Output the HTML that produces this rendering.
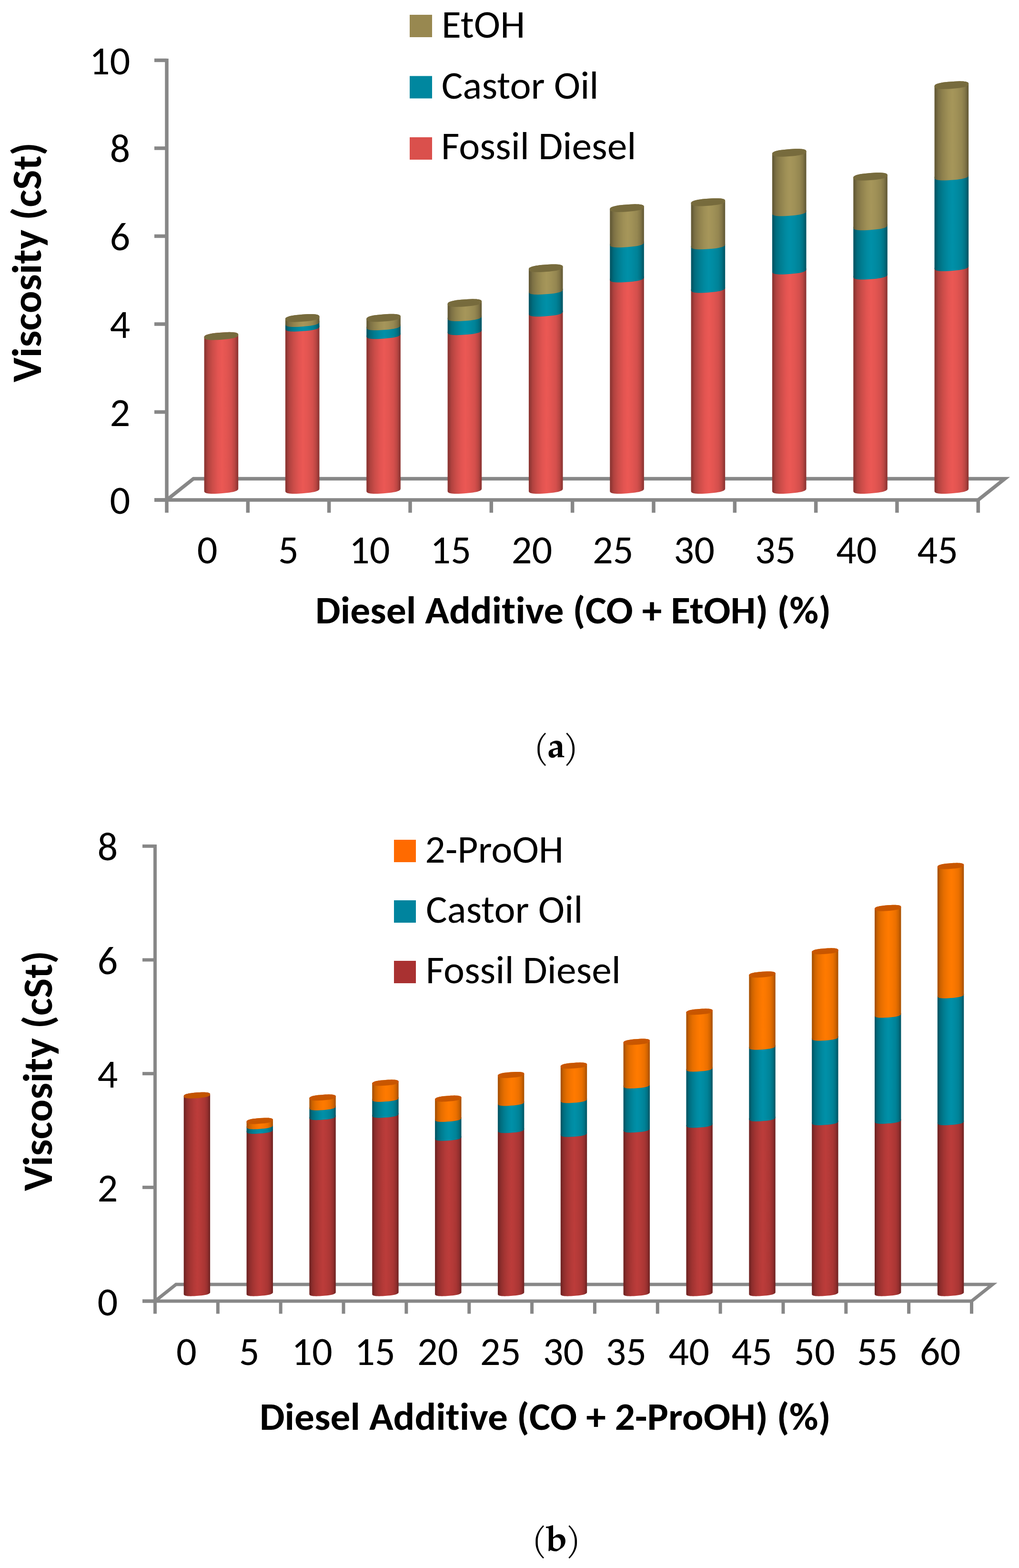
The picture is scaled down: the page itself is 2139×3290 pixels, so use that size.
<!DOCTYPE html><html><head><meta charset="utf-8"><title>Viscosity charts</title><style>html,body{margin:0;padding:0;background:#fff}svg{display:block}</style></head><body>
<svg width="2139" height="3290" viewBox="0 0 2139 3290">
<defs>
<linearGradient id="ga_red" x1="0" y1="0" x2="1" y2="0"><stop offset="0" stop-color="#8d3532"/><stop offset="0.04" stop-color="#923734"/><stop offset="0.11" stop-color="#b0423f"/><stop offset="0.24" stop-color="#ca4c48"/><stop offset="0.4" stop-color="#e25451"/><stop offset="0.52" stop-color="#eb5854"/><stop offset="0.65" stop-color="#e35551"/><stop offset="0.8" stop-color="#d44f4c"/><stop offset="0.9" stop-color="#ba4642"/><stop offset="0.965" stop-color="#963836"/><stop offset="1" stop-color="#8d3532"/></linearGradient>
<linearGradient id="ga_teal" x1="0" y1="0" x2="1" y2="0"><stop offset="0" stop-color="#005665"/><stop offset="0.04" stop-color="#005968"/><stop offset="0.11" stop-color="#006c7e"/><stop offset="0.24" stop-color="#007c90"/><stop offset="0.4" stop-color="#008aa1"/><stop offset="0.52" stop-color="#0090a8"/><stop offset="0.65" stop-color="#008ba2"/><stop offset="0.8" stop-color="#008297"/><stop offset="0.9" stop-color="#007285"/><stop offset="0.965" stop-color="#005c6c"/><stop offset="1" stop-color="#005665"/></linearGradient>
<linearGradient id="ga_olive" x1="0" y1="0" x2="1" y2="0"><stop offset="0" stop-color="#645a36"/><stop offset="0.04" stop-color="#675d38"/><stop offset="0.11" stop-color="#7c7044"/><stop offset="0.24" stop-color="#8f814d"/><stop offset="0.4" stop-color="#9f9056"/><stop offset="0.52" stop-color="#a6965a"/><stop offset="0.65" stop-color="#a09157"/><stop offset="0.8" stop-color="#958751"/><stop offset="0.9" stop-color="#837647"/><stop offset="0.965" stop-color="#6a603a"/><stop offset="1" stop-color="#645a36"/></linearGradient>
<linearGradient id="gb_red" x1="0" y1="0" x2="1" y2="0"><stop offset="0" stop-color="#712423"/><stop offset="0.04" stop-color="#752524"/><stop offset="0.11" stop-color="#8d2d2c"/><stop offset="0.24" stop-color="#a23432"/><stop offset="0.4" stop-color="#b43a38"/><stop offset="0.52" stop-color="#bc3c3a"/><stop offset="0.65" stop-color="#b53a38"/><stop offset="0.8" stop-color="#a93634"/><stop offset="0.9" stop-color="#952f2e"/><stop offset="0.965" stop-color="#782625"/><stop offset="1" stop-color="#712423"/></linearGradient>
<linearGradient id="gb_orange" x1="0" y1="0" x2="1" y2="0"><stop offset="0" stop-color="#a85100"/><stop offset="0.04" stop-color="#ad5300"/><stop offset="0.11" stop-color="#cc6200"/><stop offset="0.24" stop-color="#e66e00"/><stop offset="0.4" stop-color="#f77600"/><stop offset="0.52" stop-color="#ff7a00"/><stop offset="0.65" stop-color="#f97700"/><stop offset="0.8" stop-color="#eb7000"/><stop offset="0.9" stop-color="#d16400"/><stop offset="0.965" stop-color="#b25500"/><stop offset="1" stop-color="#a85100"/></linearGradient>
</defs>
<rect width="100%" height="100%" fill="#fff"/>
<g stroke="#878787" stroke-width="7.5" fill="none" stroke-linejoin="miter">
<polyline points="350,1049 406,1004.5 2109.3,1004.5 2053.3,1049"/>
<line x1="324" y1="1049" x2="2056.8" y2="1049"/>
<line x1="350" y1="123.0" x2="350" y2="1075.8"/>
<line x1="520.33" y1="1049" x2="520.33" y2="1075.8"/>
<line x1="690.66" y1="1049" x2="690.66" y2="1075.8"/>
<line x1="860.99" y1="1049" x2="860.99" y2="1075.8"/>
<line x1="1031.32" y1="1049" x2="1031.32" y2="1075.8"/>
<line x1="1201.65" y1="1049" x2="1201.65" y2="1075.8"/>
<line x1="1371.98" y1="1049" x2="1371.98" y2="1075.8"/>
<line x1="1542.31" y1="1049" x2="1542.31" y2="1075.8"/>
<line x1="1712.64" y1="1049" x2="1712.64" y2="1075.8"/>
<line x1="1882.97" y1="1049" x2="1882.97" y2="1075.8"/>
<line x1="2053.30" y1="1049" x2="2053.30" y2="1075.8"/>
<line x1="324" y1="1049.00" x2="350" y2="1049.00"/>
<line x1="324" y1="864.50" x2="350" y2="864.50"/>
<line x1="324" y1="680.00" x2="350" y2="680.00"/>
<line x1="324" y1="495.50" x2="350" y2="495.50"/>
<line x1="324" y1="311.00" x2="350" y2="311.00"/>
<line x1="324" y1="126.50" x2="350" y2="126.50"/>
</g>
<g transform="translate(464.40,0) skewY(-4.154)">
<path d="M-35.80,1027.66 L-35.80,705.14 L-35.56,703.57 L-34.86,702.49 L-33.68,701.56 L-32.05,700.74 L-29.96,700.02 L-27.42,699.39 L-24.44,698.86 L-21.00,698.42 L-17.10,698.08 L-12.66,697.84 L-7.48,697.69 L-0.00,697.64 L7.48,697.69 L12.66,697.84 L17.10,698.08 L21.00,698.42 L24.44,698.86 L27.42,699.39 L29.96,700.02 L32.05,700.74 L33.68,701.56 L34.86,702.49 L35.56,703.57 L35.80,705.14 L35.80,1027.66 L35.56,1029.23 L34.86,1030.31 L33.68,1031.24 L32.05,1032.06 L29.96,1032.78 L27.42,1033.41 L24.44,1033.94 L21.00,1034.38 L17.10,1034.72 L12.66,1034.96 L7.48,1035.11 L0.00,1035.16 L-7.48,1035.11 L-12.66,1034.96 L-17.10,1034.72 L-21.00,1034.38 L-24.44,1033.94 L-27.42,1033.41 L-29.96,1032.78 L-32.05,1032.06 L-33.68,1031.24 L-34.86,1030.31 L-35.56,1029.23 L-35.80,1027.66 Z" fill="url(#ga_red)"/>
<path d="M35.80,705.14 L35.56,706.70 L34.86,707.79 L33.68,708.72 L32.05,709.54 L29.96,710.26 L27.42,710.88 L24.44,711.41 L21.00,711.85 L17.10,712.19 L12.66,712.44 L7.48,712.59 L0.00,712.64 L-7.48,712.59 L-12.66,712.44 L-17.10,712.19 L-21.00,711.85 L-24.44,711.41 L-27.42,710.88 L-29.96,710.26 L-32.05,709.54 L-33.68,708.72 L-34.86,707.79 L-35.56,706.70 L-35.80,705.14 L-35.56,703.57 L-34.86,702.49 L-33.68,701.56 L-32.05,700.74 L-29.96,700.02 L-27.42,699.39 L-24.44,698.86 L-21.00,698.42 L-17.10,698.08 L-12.66,697.84 L-7.48,697.69 L-0.00,697.64 L7.48,697.69 L12.66,697.84 L17.10,698.08 L21.00,698.42 L24.44,698.86 L27.42,699.39 L29.96,700.02 L32.05,700.74 L33.68,701.56 L34.86,702.49 L35.56,703.57 L35.80,705.14 Z" fill="#776b3e"/>
</g>
<g transform="translate(634.73,0) skewY(-4.154)">
<path d="M-35.80,1027.66 L-35.80,687.36 L-35.56,685.80 L-34.86,684.71 L-33.68,683.78 L-32.05,682.96 L-29.96,682.24 L-27.42,681.62 L-24.44,681.09 L-21.00,680.65 L-17.10,680.31 L-12.66,680.06 L-7.48,679.91 L-0.00,679.86 L7.48,679.91 L12.66,680.06 L17.10,680.31 L21.00,680.65 L24.44,681.09 L27.42,681.62 L29.96,682.24 L32.05,682.96 L33.68,683.78 L34.86,684.71 L35.56,685.80 L35.80,687.36 L35.80,1027.66 L35.56,1029.23 L34.86,1030.31 L33.68,1031.24 L32.05,1032.06 L29.96,1032.78 L27.42,1033.41 L24.44,1033.94 L21.00,1034.38 L17.10,1034.72 L12.66,1034.96 L7.48,1035.11 L0.00,1035.16 L-7.48,1035.11 L-12.66,1034.96 L-17.10,1034.72 L-21.00,1034.38 L-24.44,1033.94 L-27.42,1033.41 L-29.96,1032.78 L-32.05,1032.06 L-33.68,1031.24 L-34.86,1030.31 L-35.56,1029.23 L-35.80,1027.66 Z" fill="url(#ga_red)"/>
<path d="M-35.80,687.36 L-35.80,677.66 L-35.56,676.10 L-34.86,675.01 L-33.68,674.08 L-32.05,673.26 L-29.96,672.54 L-27.42,671.92 L-24.44,671.39 L-21.00,670.95 L-17.10,670.61 L-12.66,670.36 L-7.48,670.21 L-0.00,670.16 L7.48,670.21 L12.66,670.36 L17.10,670.61 L21.00,670.95 L24.44,671.39 L27.42,671.92 L29.96,672.54 L32.05,673.26 L33.68,674.08 L34.86,675.01 L35.56,676.10 L35.80,677.66 L35.80,687.36 L35.56,688.93 L34.86,690.01 L33.68,690.94 L32.05,691.76 L29.96,692.48 L27.42,693.11 L24.44,693.64 L21.00,694.08 L17.10,694.42 L12.66,694.66 L7.48,694.81 L0.00,694.86 L-7.48,694.81 L-12.66,694.66 L-17.10,694.42 L-21.00,694.08 L-24.44,693.64 L-27.42,693.11 L-29.96,692.48 L-32.05,691.76 L-33.68,690.94 L-34.86,690.01 L-35.56,688.93 L-35.80,687.36 Z" fill="url(#ga_teal)"/>
<path d="M-35.80,677.66 L-35.80,667.34 L-35.56,665.77 L-34.86,664.69 L-33.68,663.76 L-32.05,662.94 L-29.96,662.22 L-27.42,661.59 L-24.44,661.06 L-21.00,660.62 L-17.10,660.28 L-12.66,660.04 L-7.48,659.89 L-0.00,659.84 L7.48,659.89 L12.66,660.04 L17.10,660.28 L21.00,660.62 L24.44,661.06 L27.42,661.59 L29.96,662.22 L32.05,662.94 L33.68,663.76 L34.86,664.69 L35.56,665.77 L35.80,667.34 L35.80,677.66 L35.56,679.23 L34.86,680.31 L33.68,681.24 L32.05,682.06 L29.96,682.78 L27.42,683.41 L24.44,683.94 L21.00,684.38 L17.10,684.72 L12.66,684.96 L7.48,685.11 L0.00,685.16 L-7.48,685.11 L-12.66,684.96 L-17.10,684.72 L-21.00,684.38 L-24.44,683.94 L-27.42,683.41 L-29.96,682.78 L-32.05,682.06 L-33.68,681.24 L-34.86,680.31 L-35.56,679.23 L-35.80,677.66 Z" fill="url(#ga_olive)"/>
<path d="M35.80,667.34 L35.56,668.90 L34.86,669.99 L33.68,670.92 L32.05,671.74 L29.96,672.46 L27.42,673.08 L24.44,673.61 L21.00,674.05 L17.10,674.39 L12.66,674.64 L7.48,674.79 L0.00,674.84 L-7.48,674.79 L-12.66,674.64 L-17.10,674.39 L-21.00,674.05 L-24.44,673.61 L-27.42,673.08 L-29.96,672.46 L-32.05,671.74 L-33.68,670.92 L-34.86,669.99 L-35.56,668.90 L-35.80,667.34 L-35.56,665.77 L-34.86,664.69 L-33.68,663.76 L-32.05,662.94 L-29.96,662.22 L-27.42,661.59 L-24.44,661.06 L-21.00,660.62 L-17.10,660.28 L-12.66,660.04 L-7.48,659.89 L-0.00,659.84 L7.48,659.89 L12.66,660.04 L17.10,660.28 L21.00,660.62 L24.44,661.06 L27.42,661.59 L29.96,662.22 L32.05,662.94 L33.68,663.76 L34.86,664.69 L35.56,665.77 L35.80,667.34 Z" fill="#776b3d"/>
</g>
<g transform="translate(805.06,0) skewY(-4.154)">
<path d="M-35.80,1027.66 L-35.80,702.96 L-35.56,701.40 L-34.86,700.31 L-33.68,699.38 L-32.05,698.56 L-29.96,697.84 L-27.42,697.22 L-24.44,696.69 L-21.00,696.25 L-17.10,695.91 L-12.66,695.66 L-7.48,695.51 L-0.00,695.46 L7.48,695.51 L12.66,695.66 L17.10,695.91 L21.00,696.25 L24.44,696.69 L27.42,697.22 L29.96,697.84 L32.05,698.56 L33.68,699.38 L34.86,700.31 L35.56,701.40 L35.80,702.96 L35.80,1027.66 L35.56,1029.23 L34.86,1030.31 L33.68,1031.24 L32.05,1032.06 L29.96,1032.78 L27.42,1033.41 L24.44,1033.94 L21.00,1034.38 L17.10,1034.72 L12.66,1034.96 L7.48,1035.11 L0.00,1035.16 L-7.48,1035.11 L-12.66,1034.96 L-17.10,1034.72 L-21.00,1034.38 L-24.44,1033.94 L-27.42,1033.41 L-29.96,1032.78 L-32.05,1032.06 L-33.68,1031.24 L-34.86,1030.31 L-35.56,1029.23 L-35.80,1027.66 Z" fill="url(#ga_red)"/>
<path d="M-35.80,702.96 L-35.80,684.76 L-35.56,683.20 L-34.86,682.11 L-33.68,681.18 L-32.05,680.36 L-29.96,679.64 L-27.42,679.02 L-24.44,678.49 L-21.00,678.05 L-17.10,677.71 L-12.66,677.46 L-7.48,677.31 L-0.00,677.26 L7.48,677.31 L12.66,677.46 L17.10,677.71 L21.00,678.05 L24.44,678.49 L27.42,679.02 L29.96,679.64 L32.05,680.36 L33.68,681.18 L34.86,682.11 L35.56,683.20 L35.80,684.76 L35.80,702.96 L35.56,704.53 L34.86,705.61 L33.68,706.54 L32.05,707.36 L29.96,708.08 L27.42,708.71 L24.44,709.24 L21.00,709.68 L17.10,710.02 L12.66,710.26 L7.48,710.41 L0.00,710.46 L-7.48,710.41 L-12.66,710.26 L-17.10,710.02 L-21.00,709.68 L-24.44,709.24 L-27.42,708.71 L-29.96,708.08 L-32.05,707.36 L-33.68,706.54 L-34.86,705.61 L-35.56,704.53 L-35.80,702.96 Z" fill="url(#ga_teal)"/>
<path d="M-35.80,684.76 L-35.80,667.04 L-35.56,665.47 L-34.86,664.39 L-33.68,663.46 L-32.05,662.64 L-29.96,661.92 L-27.42,661.29 L-24.44,660.76 L-21.00,660.32 L-17.10,659.98 L-12.66,659.74 L-7.48,659.59 L-0.00,659.54 L7.48,659.59 L12.66,659.74 L17.10,659.98 L21.00,660.32 L24.44,660.76 L27.42,661.29 L29.96,661.92 L32.05,662.64 L33.68,663.46 L34.86,664.39 L35.56,665.47 L35.80,667.04 L35.80,684.76 L35.56,686.33 L34.86,687.41 L33.68,688.34 L32.05,689.16 L29.96,689.88 L27.42,690.51 L24.44,691.04 L21.00,691.48 L17.10,691.82 L12.66,692.06 L7.48,692.21 L0.00,692.26 L-7.48,692.21 L-12.66,692.06 L-17.10,691.82 L-21.00,691.48 L-24.44,691.04 L-27.42,690.51 L-29.96,689.88 L-32.05,689.16 L-33.68,688.34 L-34.86,687.41 L-35.56,686.33 L-35.80,684.76 Z" fill="url(#ga_olive)"/>
<path d="M35.80,667.04 L35.56,668.60 L34.86,669.69 L33.68,670.62 L32.05,671.44 L29.96,672.16 L27.42,672.78 L24.44,673.31 L21.00,673.75 L17.10,674.09 L12.66,674.34 L7.48,674.49 L0.00,674.54 L-7.48,674.49 L-12.66,674.34 L-17.10,674.09 L-21.00,673.75 L-24.44,673.31 L-27.42,672.78 L-29.96,672.16 L-32.05,671.44 L-33.68,670.62 L-34.86,669.69 L-35.56,668.60 L-35.80,667.04 L-35.56,665.47 L-34.86,664.39 L-33.68,663.46 L-32.05,662.64 L-29.96,661.92 L-27.42,661.29 L-24.44,660.76 L-21.00,660.32 L-17.10,659.98 L-12.66,659.74 L-7.48,659.59 L-0.00,659.54 L7.48,659.59 L12.66,659.74 L17.10,659.98 L21.00,660.32 L24.44,660.76 L27.42,661.29 L29.96,661.92 L32.05,662.64 L33.68,663.46 L34.86,664.39 L35.56,665.47 L35.80,667.04 Z" fill="#776b3d"/>
</g>
<g transform="translate(975.39,0) skewY(-4.154)">
<path d="M-35.80,1027.66 L-35.80,694.86 L-35.56,693.30 L-34.86,692.21 L-33.68,691.28 L-32.05,690.46 L-29.96,689.74 L-27.42,689.12 L-24.44,688.59 L-21.00,688.15 L-17.10,687.81 L-12.66,687.56 L-7.48,687.41 L-0.00,687.36 L7.48,687.41 L12.66,687.56 L17.10,687.81 L21.00,688.15 L24.44,688.59 L27.42,689.12 L29.96,689.74 L32.05,690.46 L33.68,691.28 L34.86,692.21 L35.56,693.30 L35.80,694.86 L35.80,1027.66 L35.56,1029.23 L34.86,1030.31 L33.68,1031.24 L32.05,1032.06 L29.96,1032.78 L27.42,1033.41 L24.44,1033.94 L21.00,1034.38 L17.10,1034.72 L12.66,1034.96 L7.48,1035.11 L0.00,1035.16 L-7.48,1035.11 L-12.66,1034.96 L-17.10,1034.72 L-21.00,1034.38 L-24.44,1033.94 L-27.42,1033.41 L-29.96,1032.78 L-32.05,1032.06 L-33.68,1031.24 L-34.86,1030.31 L-35.56,1029.23 L-35.80,1027.66 Z" fill="url(#ga_red)"/>
<path d="M-35.80,694.86 L-35.80,665.76 L-35.56,664.20 L-34.86,663.11 L-33.68,662.18 L-32.05,661.36 L-29.96,660.64 L-27.42,660.02 L-24.44,659.49 L-21.00,659.05 L-17.10,658.71 L-12.66,658.46 L-7.48,658.31 L-0.00,658.26 L7.48,658.31 L12.66,658.46 L17.10,658.71 L21.00,659.05 L24.44,659.49 L27.42,660.02 L29.96,660.64 L32.05,661.36 L33.68,662.18 L34.86,663.11 L35.56,664.20 L35.80,665.76 L35.80,694.86 L35.56,696.43 L34.86,697.51 L33.68,698.44 L32.05,699.26 L29.96,699.98 L27.42,700.61 L24.44,701.14 L21.00,701.58 L17.10,701.92 L12.66,702.16 L7.48,702.31 L0.00,702.36 L-7.48,702.31 L-12.66,702.16 L-17.10,701.92 L-21.00,701.58 L-24.44,701.14 L-27.42,700.61 L-29.96,699.98 L-32.05,699.26 L-33.68,698.44 L-34.86,697.51 L-35.56,696.43 L-35.80,694.86 Z" fill="url(#ga_teal)"/>
<path d="M-35.80,665.76 L-35.80,635.64 L-35.56,634.07 L-34.86,632.99 L-33.68,632.06 L-32.05,631.24 L-29.96,630.52 L-27.42,629.89 L-24.44,629.36 L-21.00,628.92 L-17.10,628.58 L-12.66,628.34 L-7.48,628.19 L-0.00,628.14 L7.48,628.19 L12.66,628.34 L17.10,628.58 L21.00,628.92 L24.44,629.36 L27.42,629.89 L29.96,630.52 L32.05,631.24 L33.68,632.06 L34.86,632.99 L35.56,634.07 L35.80,635.64 L35.80,665.76 L35.56,667.33 L34.86,668.41 L33.68,669.34 L32.05,670.16 L29.96,670.88 L27.42,671.51 L24.44,672.04 L21.00,672.48 L17.10,672.82 L12.66,673.06 L7.48,673.21 L0.00,673.26 L-7.48,673.21 L-12.66,673.06 L-17.10,672.82 L-21.00,672.48 L-24.44,672.04 L-27.42,671.51 L-29.96,670.88 L-32.05,670.16 L-33.68,669.34 L-34.86,668.41 L-35.56,667.33 L-35.80,665.76 Z" fill="url(#ga_olive)"/>
<path d="M35.80,635.64 L35.56,637.20 L34.86,638.29 L33.68,639.22 L32.05,640.04 L29.96,640.76 L27.42,641.38 L24.44,641.91 L21.00,642.35 L17.10,642.69 L12.66,642.94 L7.48,643.09 L0.00,643.14 L-7.48,643.09 L-12.66,642.94 L-17.10,642.69 L-21.00,642.35 L-24.44,641.91 L-27.42,641.38 L-29.96,640.76 L-32.05,640.04 L-33.68,639.22 L-34.86,638.29 L-35.56,637.20 L-35.80,635.64 L-35.56,634.07 L-34.86,632.99 L-33.68,632.06 L-32.05,631.24 L-29.96,630.52 L-27.42,629.89 L-24.44,629.36 L-21.00,628.92 L-17.10,628.58 L-12.66,628.34 L-7.48,628.19 L-0.00,628.14 L7.48,628.19 L12.66,628.34 L17.10,628.58 L21.00,628.92 L24.44,629.36 L27.42,629.89 L29.96,630.52 L32.05,631.24 L33.68,632.06 L34.86,632.99 L35.56,634.07 L35.80,635.64 Z" fill="#776b3d"/>
</g>
<g transform="translate(1145.72,0) skewY(-4.154)">
<path d="M-35.80,1027.66 L-35.80,655.96 L-35.56,654.40 L-34.86,653.31 L-33.68,652.38 L-32.05,651.56 L-29.96,650.84 L-27.42,650.22 L-24.44,649.69 L-21.00,649.25 L-17.10,648.91 L-12.66,648.66 L-7.48,648.51 L-0.00,648.46 L7.48,648.51 L12.66,648.66 L17.10,648.91 L21.00,649.25 L24.44,649.69 L27.42,650.22 L29.96,650.84 L32.05,651.56 L33.68,652.38 L34.86,653.31 L35.56,654.40 L35.80,655.96 L35.80,1027.66 L35.56,1029.23 L34.86,1030.31 L33.68,1031.24 L32.05,1032.06 L29.96,1032.78 L27.42,1033.41 L24.44,1033.94 L21.00,1034.38 L17.10,1034.72 L12.66,1034.96 L7.48,1035.11 L0.00,1035.16 L-7.48,1035.11 L-12.66,1034.96 L-17.10,1034.72 L-21.00,1034.38 L-24.44,1033.94 L-27.42,1033.41 L-29.96,1032.78 L-32.05,1032.06 L-33.68,1031.24 L-34.86,1030.31 L-35.56,1029.23 L-35.80,1027.66 Z" fill="url(#ga_red)"/>
<path d="M-35.80,655.96 L-35.80,609.86 L-35.56,608.30 L-34.86,607.21 L-33.68,606.28 L-32.05,605.46 L-29.96,604.74 L-27.42,604.12 L-24.44,603.59 L-21.00,603.15 L-17.10,602.81 L-12.66,602.56 L-7.48,602.41 L-0.00,602.36 L7.48,602.41 L12.66,602.56 L17.10,602.81 L21.00,603.15 L24.44,603.59 L27.42,604.12 L29.96,604.74 L32.05,605.46 L33.68,606.28 L34.86,607.21 L35.56,608.30 L35.80,609.86 L35.80,655.96 L35.56,657.53 L34.86,658.61 L33.68,659.54 L32.05,660.36 L29.96,661.08 L27.42,661.71 L24.44,662.24 L21.00,662.68 L17.10,663.02 L12.66,663.26 L7.48,663.41 L0.00,663.46 L-7.48,663.41 L-12.66,663.26 L-17.10,663.02 L-21.00,662.68 L-24.44,662.24 L-27.42,661.71 L-29.96,661.08 L-32.05,660.36 L-33.68,659.54 L-34.86,658.61 L-35.56,657.53 L-35.80,655.96 Z" fill="url(#ga_teal)"/>
<path d="M-35.80,609.86 L-35.80,562.74 L-35.56,561.17 L-34.86,560.09 L-33.68,559.16 L-32.05,558.34 L-29.96,557.62 L-27.42,556.99 L-24.44,556.46 L-21.00,556.02 L-17.10,555.68 L-12.66,555.44 L-7.48,555.29 L-0.00,555.24 L7.48,555.29 L12.66,555.44 L17.10,555.68 L21.00,556.02 L24.44,556.46 L27.42,556.99 L29.96,557.62 L32.05,558.34 L33.68,559.16 L34.86,560.09 L35.56,561.17 L35.80,562.74 L35.80,609.86 L35.56,611.43 L34.86,612.51 L33.68,613.44 L32.05,614.26 L29.96,614.98 L27.42,615.61 L24.44,616.14 L21.00,616.58 L17.10,616.92 L12.66,617.16 L7.48,617.31 L0.00,617.36 L-7.48,617.31 L-12.66,617.16 L-17.10,616.92 L-21.00,616.58 L-24.44,616.14 L-27.42,615.61 L-29.96,614.98 L-32.05,614.26 L-33.68,613.44 L-34.86,612.51 L-35.56,611.43 L-35.80,609.86 Z" fill="url(#ga_olive)"/>
<path d="M35.80,562.74 L35.56,564.30 L34.86,565.39 L33.68,566.32 L32.05,567.14 L29.96,567.86 L27.42,568.48 L24.44,569.01 L21.00,569.45 L17.10,569.79 L12.66,570.04 L7.48,570.19 L0.00,570.24 L-7.48,570.19 L-12.66,570.04 L-17.10,569.79 L-21.00,569.45 L-24.44,569.01 L-27.42,568.48 L-29.96,567.86 L-32.05,567.14 L-33.68,566.32 L-34.86,565.39 L-35.56,564.30 L-35.80,562.74 L-35.56,561.17 L-34.86,560.09 L-33.68,559.16 L-32.05,558.34 L-29.96,557.62 L-27.42,556.99 L-24.44,556.46 L-21.00,556.02 L-17.10,555.68 L-12.66,555.44 L-7.48,555.29 L-0.00,555.24 L7.48,555.29 L12.66,555.44 L17.10,555.68 L21.00,556.02 L24.44,556.46 L27.42,556.99 L29.96,557.62 L32.05,558.34 L33.68,559.16 L34.86,560.09 L35.56,561.17 L35.80,562.74 Z" fill="#776b3d"/>
</g>
<g transform="translate(1316.05,0) skewY(-4.154)">
<path d="M-35.80,1027.66 L-35.80,584.26 L-35.56,582.70 L-34.86,581.61 L-33.68,580.68 L-32.05,579.86 L-29.96,579.14 L-27.42,578.52 L-24.44,577.99 L-21.00,577.55 L-17.10,577.21 L-12.66,576.96 L-7.48,576.81 L-0.00,576.76 L7.48,576.81 L12.66,576.96 L17.10,577.21 L21.00,577.55 L24.44,577.99 L27.42,578.52 L29.96,579.14 L32.05,579.86 L33.68,580.68 L34.86,581.61 L35.56,582.70 L35.80,584.26 L35.80,1027.66 L35.56,1029.23 L34.86,1030.31 L33.68,1031.24 L32.05,1032.06 L29.96,1032.78 L27.42,1033.41 L24.44,1033.94 L21.00,1034.38 L17.10,1034.72 L12.66,1034.96 L7.48,1035.11 L0.00,1035.16 L-7.48,1035.11 L-12.66,1034.96 L-17.10,1034.72 L-21.00,1034.38 L-24.44,1033.94 L-27.42,1033.41 L-29.96,1032.78 L-32.05,1032.06 L-33.68,1031.24 L-34.86,1030.31 L-35.56,1029.23 L-35.80,1027.66 Z" fill="url(#ga_red)"/>
<path d="M-35.80,584.26 L-35.80,510.96 L-35.56,509.40 L-34.86,508.31 L-33.68,507.38 L-32.05,506.56 L-29.96,505.84 L-27.42,505.22 L-24.44,504.69 L-21.00,504.25 L-17.10,503.91 L-12.66,503.66 L-7.48,503.51 L-0.00,503.46 L7.48,503.51 L12.66,503.66 L17.10,503.91 L21.00,504.25 L24.44,504.69 L27.42,505.22 L29.96,505.84 L32.05,506.56 L33.68,507.38 L34.86,508.31 L35.56,509.40 L35.80,510.96 L35.80,584.26 L35.56,585.83 L34.86,586.91 L33.68,587.84 L32.05,588.66 L29.96,589.38 L27.42,590.01 L24.44,590.54 L21.00,590.98 L17.10,591.32 L12.66,591.56 L7.48,591.71 L0.00,591.76 L-7.48,591.71 L-12.66,591.56 L-17.10,591.32 L-21.00,590.98 L-24.44,590.54 L-27.42,590.01 L-29.96,589.38 L-32.05,588.66 L-33.68,587.84 L-34.86,586.91 L-35.56,585.83 L-35.80,584.26 Z" fill="url(#ga_teal)"/>
<path d="M-35.80,510.96 L-35.80,436.64 L-35.56,435.07 L-34.86,433.99 L-33.68,433.06 L-32.05,432.24 L-29.96,431.52 L-27.42,430.89 L-24.44,430.36 L-21.00,429.92 L-17.10,429.58 L-12.66,429.34 L-7.48,429.19 L-0.00,429.14 L7.48,429.19 L12.66,429.34 L17.10,429.58 L21.00,429.92 L24.44,430.36 L27.42,430.89 L29.96,431.52 L32.05,432.24 L33.68,433.06 L34.86,433.99 L35.56,435.07 L35.80,436.64 L35.80,510.96 L35.56,512.53 L34.86,513.61 L33.68,514.54 L32.05,515.36 L29.96,516.08 L27.42,516.71 L24.44,517.24 L21.00,517.68 L17.10,518.02 L12.66,518.26 L7.48,518.41 L0.00,518.46 L-7.48,518.41 L-12.66,518.26 L-17.10,518.02 L-21.00,517.68 L-24.44,517.24 L-27.42,516.71 L-29.96,516.08 L-32.05,515.36 L-33.68,514.54 L-34.86,513.61 L-35.56,512.53 L-35.80,510.96 Z" fill="url(#ga_olive)"/>
<path d="M35.80,436.64 L35.56,438.20 L34.86,439.29 L33.68,440.22 L32.05,441.04 L29.96,441.76 L27.42,442.38 L24.44,442.91 L21.00,443.35 L17.10,443.69 L12.66,443.94 L7.48,444.09 L0.00,444.14 L-7.48,444.09 L-12.66,443.94 L-17.10,443.69 L-21.00,443.35 L-24.44,442.91 L-27.42,442.38 L-29.96,441.76 L-32.05,441.04 L-33.68,440.22 L-34.86,439.29 L-35.56,438.20 L-35.80,436.64 L-35.56,435.07 L-34.86,433.99 L-33.68,433.06 L-32.05,432.24 L-29.96,431.52 L-27.42,430.89 L-24.44,430.36 L-21.00,429.92 L-17.10,429.58 L-12.66,429.34 L-7.48,429.19 L-0.00,429.14 L7.48,429.19 L12.66,429.34 L17.10,429.58 L21.00,429.92 L24.44,430.36 L27.42,430.89 L29.96,431.52 L32.05,432.24 L33.68,433.06 L34.86,433.99 L35.56,435.07 L35.80,436.64 Z" fill="#776b3d"/>
</g>
<g transform="translate(1486.38,0) skewY(-4.154)">
<path d="M-35.80,1027.66 L-35.80,606.16 L-35.56,604.60 L-34.86,603.51 L-33.68,602.58 L-32.05,601.76 L-29.96,601.04 L-27.42,600.42 L-24.44,599.89 L-21.00,599.45 L-17.10,599.11 L-12.66,598.86 L-7.48,598.71 L-0.00,598.66 L7.48,598.71 L12.66,598.86 L17.10,599.11 L21.00,599.45 L24.44,599.89 L27.42,600.42 L29.96,601.04 L32.05,601.76 L33.68,602.58 L34.86,603.51 L35.56,604.60 L35.80,606.16 L35.80,1027.66 L35.56,1029.23 L34.86,1030.31 L33.68,1031.24 L32.05,1032.06 L29.96,1032.78 L27.42,1033.41 L24.44,1033.94 L21.00,1034.38 L17.10,1034.72 L12.66,1034.96 L7.48,1035.11 L0.00,1035.16 L-7.48,1035.11 L-12.66,1034.96 L-17.10,1034.72 L-21.00,1034.38 L-24.44,1033.94 L-27.42,1033.41 L-29.96,1032.78 L-32.05,1032.06 L-33.68,1031.24 L-34.86,1030.31 L-35.56,1029.23 L-35.80,1027.66 Z" fill="url(#ga_red)"/>
<path d="M-35.80,606.16 L-35.80,515.06 L-35.56,513.50 L-34.86,512.41 L-33.68,511.48 L-32.05,510.66 L-29.96,509.94 L-27.42,509.32 L-24.44,508.79 L-21.00,508.35 L-17.10,508.01 L-12.66,507.76 L-7.48,507.61 L-0.00,507.56 L7.48,507.61 L12.66,507.76 L17.10,508.01 L21.00,508.35 L24.44,508.79 L27.42,509.32 L29.96,509.94 L32.05,510.66 L33.68,511.48 L34.86,512.41 L35.56,513.50 L35.80,515.06 L35.80,606.16 L35.56,607.73 L34.86,608.81 L33.68,609.74 L32.05,610.56 L29.96,611.28 L27.42,611.91 L24.44,612.44 L21.00,612.88 L17.10,613.22 L12.66,613.46 L7.48,613.61 L0.00,613.66 L-7.48,613.61 L-12.66,613.46 L-17.10,613.22 L-21.00,612.88 L-24.44,612.44 L-27.42,611.91 L-29.96,611.28 L-32.05,610.56 L-33.68,609.74 L-34.86,608.81 L-35.56,607.73 L-35.80,606.16 Z" fill="url(#ga_teal)"/>
<path d="M-35.80,515.06 L-35.80,424.24 L-35.56,422.67 L-34.86,421.59 L-33.68,420.66 L-32.05,419.84 L-29.96,419.12 L-27.42,418.49 L-24.44,417.96 L-21.00,417.52 L-17.10,417.18 L-12.66,416.94 L-7.48,416.79 L-0.00,416.74 L7.48,416.79 L12.66,416.94 L17.10,417.18 L21.00,417.52 L24.44,417.96 L27.42,418.49 L29.96,419.12 L32.05,419.84 L33.68,420.66 L34.86,421.59 L35.56,422.67 L35.80,424.24 L35.80,515.06 L35.56,516.63 L34.86,517.71 L33.68,518.64 L32.05,519.46 L29.96,520.18 L27.42,520.81 L24.44,521.34 L21.00,521.78 L17.10,522.12 L12.66,522.36 L7.48,522.51 L0.00,522.56 L-7.48,522.51 L-12.66,522.36 L-17.10,522.12 L-21.00,521.78 L-24.44,521.34 L-27.42,520.81 L-29.96,520.18 L-32.05,519.46 L-33.68,518.64 L-34.86,517.71 L-35.56,516.63 L-35.80,515.06 Z" fill="url(#ga_olive)"/>
<path d="M35.80,424.24 L35.56,425.80 L34.86,426.89 L33.68,427.82 L32.05,428.64 L29.96,429.36 L27.42,429.98 L24.44,430.51 L21.00,430.95 L17.10,431.29 L12.66,431.54 L7.48,431.69 L0.00,431.74 L-7.48,431.69 L-12.66,431.54 L-17.10,431.29 L-21.00,430.95 L-24.44,430.51 L-27.42,429.98 L-29.96,429.36 L-32.05,428.64 L-33.68,427.82 L-34.86,426.89 L-35.56,425.80 L-35.80,424.24 L-35.56,422.67 L-34.86,421.59 L-33.68,420.66 L-32.05,419.84 L-29.96,419.12 L-27.42,418.49 L-24.44,417.96 L-21.00,417.52 L-17.10,417.18 L-12.66,416.94 L-7.48,416.79 L-0.00,416.74 L7.48,416.79 L12.66,416.94 L17.10,417.18 L21.00,417.52 L24.44,417.96 L27.42,418.49 L29.96,419.12 L32.05,419.84 L33.68,420.66 L34.86,421.59 L35.56,422.67 L35.80,424.24 Z" fill="#776b3d"/>
</g>
<g transform="translate(1656.71,0) skewY(-4.154)">
<path d="M-35.80,1027.66 L-35.80,567.46 L-35.56,565.90 L-34.86,564.81 L-33.68,563.88 L-32.05,563.06 L-29.96,562.34 L-27.42,561.72 L-24.44,561.19 L-21.00,560.75 L-17.10,560.41 L-12.66,560.16 L-7.48,560.01 L-0.00,559.96 L7.48,560.01 L12.66,560.16 L17.10,560.41 L21.00,560.75 L24.44,561.19 L27.42,561.72 L29.96,562.34 L32.05,563.06 L33.68,563.88 L34.86,564.81 L35.56,565.90 L35.80,567.46 L35.80,1027.66 L35.56,1029.23 L34.86,1030.31 L33.68,1031.24 L32.05,1032.06 L29.96,1032.78 L27.42,1033.41 L24.44,1033.94 L21.00,1034.38 L17.10,1034.72 L12.66,1034.96 L7.48,1035.11 L0.00,1035.16 L-7.48,1035.11 L-12.66,1034.96 L-17.10,1034.72 L-21.00,1034.38 L-24.44,1033.94 L-27.42,1033.41 L-29.96,1032.78 L-32.05,1032.06 L-33.68,1031.24 L-34.86,1030.31 L-35.56,1029.23 L-35.80,1027.66 Z" fill="url(#ga_red)"/>
<path d="M-35.80,567.46 L-35.80,445.26 L-35.56,443.70 L-34.86,442.61 L-33.68,441.68 L-32.05,440.86 L-29.96,440.14 L-27.42,439.52 L-24.44,438.99 L-21.00,438.55 L-17.10,438.21 L-12.66,437.96 L-7.48,437.81 L-0.00,437.76 L7.48,437.81 L12.66,437.96 L17.10,438.21 L21.00,438.55 L24.44,438.99 L27.42,439.52 L29.96,440.14 L32.05,440.86 L33.68,441.68 L34.86,442.61 L35.56,443.70 L35.80,445.26 L35.80,567.46 L35.56,569.03 L34.86,570.11 L33.68,571.04 L32.05,571.86 L29.96,572.58 L27.42,573.21 L24.44,573.74 L21.00,574.18 L17.10,574.52 L12.66,574.76 L7.48,574.91 L0.00,574.96 L-7.48,574.91 L-12.66,574.76 L-17.10,574.52 L-21.00,574.18 L-24.44,573.74 L-27.42,573.21 L-29.96,572.58 L-32.05,571.86 L-33.68,571.04 L-34.86,570.11 L-35.56,569.03 L-35.80,567.46 Z" fill="url(#ga_teal)"/>
<path d="M-35.80,445.26 L-35.80,320.54 L-35.56,318.97 L-34.86,317.89 L-33.68,316.96 L-32.05,316.14 L-29.96,315.42 L-27.42,314.79 L-24.44,314.26 L-21.00,313.82 L-17.10,313.48 L-12.66,313.24 L-7.48,313.09 L-0.00,313.04 L7.48,313.09 L12.66,313.24 L17.10,313.48 L21.00,313.82 L24.44,314.26 L27.42,314.79 L29.96,315.42 L32.05,316.14 L33.68,316.96 L34.86,317.89 L35.56,318.97 L35.80,320.54 L35.80,445.26 L35.56,446.83 L34.86,447.91 L33.68,448.84 L32.05,449.66 L29.96,450.38 L27.42,451.01 L24.44,451.54 L21.00,451.98 L17.10,452.32 L12.66,452.56 L7.48,452.71 L0.00,452.76 L-7.48,452.71 L-12.66,452.56 L-17.10,452.32 L-21.00,451.98 L-24.44,451.54 L-27.42,451.01 L-29.96,450.38 L-32.05,449.66 L-33.68,448.84 L-34.86,447.91 L-35.56,446.83 L-35.80,445.26 Z" fill="url(#ga_olive)"/>
<path d="M35.80,320.54 L35.56,322.10 L34.86,323.19 L33.68,324.12 L32.05,324.94 L29.96,325.66 L27.42,326.28 L24.44,326.81 L21.00,327.25 L17.10,327.59 L12.66,327.84 L7.48,327.99 L0.00,328.04 L-7.48,327.99 L-12.66,327.84 L-17.10,327.59 L-21.00,327.25 L-24.44,326.81 L-27.42,326.28 L-29.96,325.66 L-32.05,324.94 L-33.68,324.12 L-34.86,323.19 L-35.56,322.10 L-35.80,320.54 L-35.56,318.97 L-34.86,317.89 L-33.68,316.96 L-32.05,316.14 L-29.96,315.42 L-27.42,314.79 L-24.44,314.26 L-21.00,313.82 L-17.10,313.48 L-12.66,313.24 L-7.48,313.09 L-0.00,313.04 L7.48,313.09 L12.66,313.24 L17.10,313.48 L21.00,313.82 L24.44,314.26 L27.42,314.79 L29.96,315.42 L32.05,316.14 L33.68,316.96 L34.86,317.89 L35.56,318.97 L35.80,320.54 Z" fill="#776b3d"/>
</g>
<g transform="translate(1827.04,0) skewY(-4.154)">
<path d="M-35.80,1027.66 L-35.80,578.26 L-35.56,576.70 L-34.86,575.61 L-33.68,574.68 L-32.05,573.86 L-29.96,573.14 L-27.42,572.52 L-24.44,571.99 L-21.00,571.55 L-17.10,571.21 L-12.66,570.96 L-7.48,570.81 L-0.00,570.76 L7.48,570.81 L12.66,570.96 L17.10,571.21 L21.00,571.55 L24.44,571.99 L27.42,572.52 L29.96,573.14 L32.05,573.86 L33.68,574.68 L34.86,575.61 L35.56,576.70 L35.80,578.26 L35.80,1027.66 L35.56,1029.23 L34.86,1030.31 L33.68,1031.24 L32.05,1032.06 L29.96,1032.78 L27.42,1033.41 L24.44,1033.94 L21.00,1034.38 L17.10,1034.72 L12.66,1034.96 L7.48,1035.11 L0.00,1035.16 L-7.48,1035.11 L-12.66,1034.96 L-17.10,1034.72 L-21.00,1034.38 L-24.44,1033.94 L-27.42,1033.41 L-29.96,1032.78 L-32.05,1032.06 L-33.68,1031.24 L-34.86,1030.31 L-35.56,1029.23 L-35.80,1027.66 Z" fill="url(#ga_red)"/>
<path d="M-35.80,578.26 L-35.80,474.96 L-35.56,473.40 L-34.86,472.31 L-33.68,471.38 L-32.05,470.56 L-29.96,469.84 L-27.42,469.22 L-24.44,468.69 L-21.00,468.25 L-17.10,467.91 L-12.66,467.66 L-7.48,467.51 L-0.00,467.46 L7.48,467.51 L12.66,467.66 L17.10,467.91 L21.00,468.25 L24.44,468.69 L27.42,469.22 L29.96,469.84 L32.05,470.56 L33.68,471.38 L34.86,472.31 L35.56,473.40 L35.80,474.96 L35.80,578.26 L35.56,579.83 L34.86,580.91 L33.68,581.84 L32.05,582.66 L29.96,583.38 L27.42,584.01 L24.44,584.54 L21.00,584.98 L17.10,585.32 L12.66,585.56 L7.48,585.71 L0.00,585.76 L-7.48,585.71 L-12.66,585.56 L-17.10,585.32 L-21.00,584.98 L-24.44,584.54 L-27.42,584.01 L-29.96,583.38 L-32.05,582.66 L-33.68,581.84 L-34.86,580.91 L-35.56,579.83 L-35.80,578.26 Z" fill="url(#ga_teal)"/>
<path d="M-35.80,474.96 L-35.80,370.54 L-35.56,368.97 L-34.86,367.89 L-33.68,366.96 L-32.05,366.14 L-29.96,365.42 L-27.42,364.79 L-24.44,364.26 L-21.00,363.82 L-17.10,363.48 L-12.66,363.24 L-7.48,363.09 L-0.00,363.04 L7.48,363.09 L12.66,363.24 L17.10,363.48 L21.00,363.82 L24.44,364.26 L27.42,364.79 L29.96,365.42 L32.05,366.14 L33.68,366.96 L34.86,367.89 L35.56,368.97 L35.80,370.54 L35.80,474.96 L35.56,476.53 L34.86,477.61 L33.68,478.54 L32.05,479.36 L29.96,480.08 L27.42,480.71 L24.44,481.24 L21.00,481.68 L17.10,482.02 L12.66,482.26 L7.48,482.41 L0.00,482.46 L-7.48,482.41 L-12.66,482.26 L-17.10,482.02 L-21.00,481.68 L-24.44,481.24 L-27.42,480.71 L-29.96,480.08 L-32.05,479.36 L-33.68,478.54 L-34.86,477.61 L-35.56,476.53 L-35.80,474.96 Z" fill="url(#ga_olive)"/>
<path d="M35.80,370.54 L35.56,372.10 L34.86,373.19 L33.68,374.12 L32.05,374.94 L29.96,375.66 L27.42,376.28 L24.44,376.81 L21.00,377.25 L17.10,377.59 L12.66,377.84 L7.48,377.99 L0.00,378.04 L-7.48,377.99 L-12.66,377.84 L-17.10,377.59 L-21.00,377.25 L-24.44,376.81 L-27.42,376.28 L-29.96,375.66 L-32.05,374.94 L-33.68,374.12 L-34.86,373.19 L-35.56,372.10 L-35.80,370.54 L-35.56,368.97 L-34.86,367.89 L-33.68,366.96 L-32.05,366.14 L-29.96,365.42 L-27.42,364.79 L-24.44,364.26 L-21.00,363.82 L-17.10,363.48 L-12.66,363.24 L-7.48,363.09 L-0.00,363.04 L7.48,363.09 L12.66,363.24 L17.10,363.48 L21.00,363.82 L24.44,364.26 L27.42,364.79 L29.96,365.42 L32.05,366.14 L33.68,366.96 L34.86,367.89 L35.56,368.97 L35.80,370.54 Z" fill="#776b3d"/>
</g>
<g transform="translate(1997.37,0) skewY(-4.154)">
<path d="M-35.80,1027.66 L-35.80,560.66 L-35.56,559.10 L-34.86,558.01 L-33.68,557.08 L-32.05,556.26 L-29.96,555.54 L-27.42,554.92 L-24.44,554.39 L-21.00,553.95 L-17.10,553.61 L-12.66,553.36 L-7.48,553.21 L-0.00,553.16 L7.48,553.21 L12.66,553.36 L17.10,553.61 L21.00,553.95 L24.44,554.39 L27.42,554.92 L29.96,555.54 L32.05,556.26 L33.68,557.08 L34.86,558.01 L35.56,559.10 L35.80,560.66 L35.80,1027.66 L35.56,1029.23 L34.86,1030.31 L33.68,1031.24 L32.05,1032.06 L29.96,1032.78 L27.42,1033.41 L24.44,1033.94 L21.00,1034.38 L17.10,1034.72 L12.66,1034.96 L7.48,1035.11 L0.00,1035.16 L-7.48,1035.11 L-12.66,1034.96 L-17.10,1034.72 L-21.00,1034.38 L-24.44,1033.94 L-27.42,1033.41 L-29.96,1032.78 L-32.05,1032.06 L-33.68,1031.24 L-34.86,1030.31 L-35.56,1029.23 L-35.80,1027.66 Z" fill="url(#ga_red)"/>
<path d="M-35.80,560.66 L-35.80,370.26 L-35.56,368.70 L-34.86,367.61 L-33.68,366.68 L-32.05,365.86 L-29.96,365.14 L-27.42,364.52 L-24.44,363.99 L-21.00,363.55 L-17.10,363.21 L-12.66,362.96 L-7.48,362.81 L-0.00,362.76 L7.48,362.81 L12.66,362.96 L17.10,363.21 L21.00,363.55 L24.44,363.99 L27.42,364.52 L29.96,365.14 L32.05,365.86 L33.68,366.68 L34.86,367.61 L35.56,368.70 L35.80,370.26 L35.80,560.66 L35.56,562.23 L34.86,563.31 L33.68,564.24 L32.05,565.06 L29.96,565.78 L27.42,566.41 L24.44,566.94 L21.00,567.38 L17.10,567.72 L12.66,567.96 L7.48,568.11 L0.00,568.16 L-7.48,568.11 L-12.66,567.96 L-17.10,567.72 L-21.00,567.38 L-24.44,566.94 L-27.42,566.41 L-29.96,565.78 L-32.05,565.06 L-33.68,564.24 L-34.86,563.31 L-35.56,562.23 L-35.80,560.66 Z" fill="url(#ga_teal)"/>
<path d="M-35.80,370.26 L-35.80,178.64 L-35.56,177.07 L-34.86,175.99 L-33.68,175.06 L-32.05,174.24 L-29.96,173.52 L-27.42,172.89 L-24.44,172.36 L-21.00,171.92 L-17.10,171.58 L-12.66,171.34 L-7.48,171.19 L-0.00,171.14 L7.48,171.19 L12.66,171.34 L17.10,171.58 L21.00,171.92 L24.44,172.36 L27.42,172.89 L29.96,173.52 L32.05,174.24 L33.68,175.06 L34.86,175.99 L35.56,177.07 L35.80,178.64 L35.80,370.26 L35.56,371.83 L34.86,372.91 L33.68,373.84 L32.05,374.66 L29.96,375.38 L27.42,376.01 L24.44,376.54 L21.00,376.98 L17.10,377.32 L12.66,377.56 L7.48,377.71 L0.00,377.76 L-7.48,377.71 L-12.66,377.56 L-17.10,377.32 L-21.00,376.98 L-24.44,376.54 L-27.42,376.01 L-29.96,375.38 L-32.05,374.66 L-33.68,373.84 L-34.86,372.91 L-35.56,371.83 L-35.80,370.26 Z" fill="url(#ga_olive)"/>
<path d="M35.80,178.64 L35.56,180.20 L34.86,181.29 L33.68,182.22 L32.05,183.04 L29.96,183.76 L27.42,184.38 L24.44,184.91 L21.00,185.35 L17.10,185.69 L12.66,185.94 L7.48,186.09 L0.00,186.14 L-7.48,186.09 L-12.66,185.94 L-17.10,185.69 L-21.00,185.35 L-24.44,184.91 L-27.42,184.38 L-29.96,183.76 L-32.05,183.04 L-33.68,182.22 L-34.86,181.29 L-35.56,180.20 L-35.80,178.64 L-35.56,177.07 L-34.86,175.99 L-33.68,175.06 L-32.05,174.24 L-29.96,173.52 L-27.42,172.89 L-24.44,172.36 L-21.00,171.92 L-17.10,171.58 L-12.66,171.34 L-7.48,171.19 L-0.00,171.14 L7.48,171.19 L12.66,171.34 L17.10,171.58 L21.00,171.92 L24.44,172.36 L27.42,172.89 L29.96,173.52 L32.05,174.24 L33.68,175.06 L34.86,175.99 L35.56,177.07 L35.80,178.64 Z" fill="#776b3d"/>
</g>
<g stroke="#878787" stroke-width="7" fill="none" stroke-linejoin="miter">
<polyline points="325.5,2730 369.5,2695 2083.5,2695 2039.5,2730"/>
<line x1="299" y1="2730" x2="2043.0" y2="2730"/>
<line x1="325.5" y1="1771.9" x2="325.5" y2="2756.5"/>
<line x1="457.35" y1="2730" x2="457.35" y2="2756.5"/>
<line x1="589.19" y1="2730" x2="589.19" y2="2756.5"/>
<line x1="721.04" y1="2730" x2="721.04" y2="2756.5"/>
<line x1="852.88" y1="2730" x2="852.88" y2="2756.5"/>
<line x1="984.73" y1="2730" x2="984.73" y2="2756.5"/>
<line x1="1116.58" y1="2730" x2="1116.58" y2="2756.5"/>
<line x1="1248.42" y1="2730" x2="1248.42" y2="2756.5"/>
<line x1="1380.27" y1="2730" x2="1380.27" y2="2756.5"/>
<line x1="1512.12" y1="2730" x2="1512.12" y2="2756.5"/>
<line x1="1643.96" y1="2730" x2="1643.96" y2="2756.5"/>
<line x1="1775.81" y1="2730" x2="1775.81" y2="2756.5"/>
<line x1="1907.65" y1="2730" x2="1907.65" y2="2756.5"/>
<line x1="2039.50" y1="2730" x2="2039.50" y2="2756.5"/>
<line x1="299" y1="2730.00" x2="325.5" y2="2730.00"/>
<line x1="299" y1="2491.35" x2="325.5" y2="2491.35"/>
<line x1="299" y1="2252.70" x2="325.5" y2="2252.70"/>
<line x1="299" y1="2014.05" x2="325.5" y2="2014.05"/>
<line x1="299" y1="1775.40" x2="325.5" y2="1775.40"/>
</g>
<g transform="translate(413.40,0) skewY(-4.130)">
<path d="M-27.70,2713.17 L-27.70,2298.23 L-27.52,2297.00 L-26.97,2296.14 L-26.06,2295.41 L-24.80,2294.77 L-23.18,2294.20 L-21.22,2293.71 L-18.91,2293.29 L-16.25,2292.95 L-13.23,2292.68 L-9.79,2292.49 L-5.78,2292.37 L-0.00,2292.33 L5.78,2292.37 L9.79,2292.49 L13.23,2292.68 L16.25,2292.95 L18.91,2293.29 L21.22,2293.71 L23.18,2294.20 L24.80,2294.77 L26.06,2295.41 L26.97,2296.14 L27.52,2297.00 L27.70,2298.23 L27.70,2713.17 L27.52,2714.40 L26.97,2715.26 L26.06,2715.99 L24.80,2716.63 L23.18,2717.20 L21.22,2717.69 L18.91,2718.11 L16.25,2718.45 L13.23,2718.72 L9.79,2718.91 L5.78,2719.03 L0.00,2719.07 L-5.78,2719.03 L-9.79,2718.91 L-13.23,2718.72 L-16.25,2718.45 L-18.91,2718.11 L-21.22,2717.69 L-23.18,2717.20 L-24.80,2716.63 L-26.06,2715.99 L-26.97,2715.26 L-27.52,2714.40 L-27.70,2713.17 Z" fill="url(#gb_red)"/>
<path d="M27.70,2298.23 L27.52,2299.46 L26.97,2300.32 L26.06,2301.05 L24.80,2301.69 L23.18,2302.26 L21.22,2302.75 L18.91,2303.17 L16.25,2303.51 L13.23,2303.78 L9.79,2303.97 L5.78,2304.09 L0.00,2304.13 L-5.78,2304.09 L-9.79,2303.97 L-13.23,2303.78 L-16.25,2303.51 L-18.91,2303.17 L-21.22,2302.75 L-23.18,2302.26 L-24.80,2301.69 L-26.06,2301.05 L-26.97,2300.32 L-27.52,2299.46 L-27.70,2298.23 L-27.52,2297.00 L-26.97,2296.14 L-26.06,2295.41 L-24.80,2294.77 L-23.18,2294.20 L-21.22,2293.71 L-18.91,2293.29 L-16.25,2292.95 L-13.23,2292.68 L-9.79,2292.49 L-5.78,2292.37 L-0.00,2292.33 L5.78,2292.37 L9.79,2292.49 L13.23,2292.68 L16.25,2292.95 L18.91,2293.29 L21.22,2293.71 L23.18,2294.20 L24.80,2294.77 L26.06,2295.41 L26.97,2296.14 L27.52,2297.00 L27.70,2298.23 Z" fill="#c35400"/>
</g>
<g transform="translate(545.25,0) skewY(-4.130)">
<path d="M-27.70,2713.17 L-27.70,2372.47 L-27.52,2371.24 L-26.97,2370.38 L-26.06,2369.65 L-24.80,2369.01 L-23.18,2368.44 L-21.22,2367.95 L-18.91,2367.53 L-16.25,2367.19 L-13.23,2366.92 L-9.79,2366.73 L-5.78,2366.61 L-0.00,2366.57 L5.78,2366.61 L9.79,2366.73 L13.23,2366.92 L16.25,2367.19 L18.91,2367.53 L21.22,2367.95 L23.18,2368.44 L24.80,2369.01 L26.06,2369.65 L26.97,2370.38 L27.52,2371.24 L27.70,2372.47 L27.70,2713.17 L27.52,2714.40 L26.97,2715.26 L26.06,2715.99 L24.80,2716.63 L23.18,2717.20 L21.22,2717.69 L18.91,2718.11 L16.25,2718.45 L13.23,2718.72 L9.79,2718.91 L5.78,2719.03 L0.00,2719.07 L-5.78,2719.03 L-9.79,2718.91 L-13.23,2718.72 L-16.25,2718.45 L-18.91,2718.11 L-21.22,2717.69 L-23.18,2717.20 L-24.80,2716.63 L-26.06,2715.99 L-26.97,2715.26 L-27.52,2714.40 L-27.70,2713.17 Z" fill="url(#gb_red)"/>
<path d="M-27.70,2372.47 L-27.70,2362.87 L-27.52,2361.64 L-26.97,2360.78 L-26.06,2360.05 L-24.80,2359.41 L-23.18,2358.84 L-21.22,2358.35 L-18.91,2357.93 L-16.25,2357.59 L-13.23,2357.32 L-9.79,2357.13 L-5.78,2357.01 L-0.00,2356.97 L5.78,2357.01 L9.79,2357.13 L13.23,2357.32 L16.25,2357.59 L18.91,2357.93 L21.22,2358.35 L23.18,2358.84 L24.80,2359.41 L26.06,2360.05 L26.97,2360.78 L27.52,2361.64 L27.70,2362.87 L27.70,2372.47 L27.52,2373.70 L26.97,2374.56 L26.06,2375.29 L24.80,2375.93 L23.18,2376.50 L21.22,2376.99 L18.91,2377.41 L16.25,2377.75 L13.23,2378.02 L9.79,2378.21 L5.78,2378.33 L0.00,2378.37 L-5.78,2378.33 L-9.79,2378.21 L-13.23,2378.02 L-16.25,2377.75 L-18.91,2377.41 L-21.22,2376.99 L-23.18,2376.50 L-24.80,2375.93 L-26.06,2375.29 L-26.97,2374.56 L-27.52,2373.70 L-27.70,2372.47 Z" fill="url(#ga_teal)"/>
<path d="M-27.70,2362.87 L-27.70,2351.93 L-27.52,2350.70 L-26.97,2349.84 L-26.06,2349.11 L-24.80,2348.47 L-23.18,2347.90 L-21.22,2347.41 L-18.91,2346.99 L-16.25,2346.65 L-13.23,2346.38 L-9.79,2346.19 L-5.78,2346.07 L-0.00,2346.03 L5.78,2346.07 L9.79,2346.19 L13.23,2346.38 L16.25,2346.65 L18.91,2346.99 L21.22,2347.41 L23.18,2347.90 L24.80,2348.47 L26.06,2349.11 L26.97,2349.84 L27.52,2350.70 L27.70,2351.93 L27.70,2362.87 L27.52,2364.10 L26.97,2364.96 L26.06,2365.69 L24.80,2366.33 L23.18,2366.90 L21.22,2367.39 L18.91,2367.81 L16.25,2368.15 L13.23,2368.42 L9.79,2368.61 L5.78,2368.73 L0.00,2368.77 L-5.78,2368.73 L-9.79,2368.61 L-13.23,2368.42 L-16.25,2368.15 L-18.91,2367.81 L-21.22,2367.39 L-23.18,2366.90 L-24.80,2366.33 L-26.06,2365.69 L-26.97,2364.96 L-27.52,2364.10 L-27.70,2362.87 Z" fill="url(#gb_orange)"/>
<path d="M27.70,2351.93 L27.52,2353.16 L26.97,2354.02 L26.06,2354.75 L24.80,2355.39 L23.18,2355.96 L21.22,2356.45 L18.91,2356.87 L16.25,2357.21 L13.23,2357.48 L9.79,2357.67 L5.78,2357.79 L0.00,2357.83 L-5.78,2357.79 L-9.79,2357.67 L-13.23,2357.48 L-16.25,2357.21 L-18.91,2356.87 L-21.22,2356.45 L-23.18,2355.96 L-24.80,2355.39 L-26.06,2354.75 L-26.97,2354.02 L-27.52,2353.16 L-27.70,2351.93 L-27.52,2350.70 L-26.97,2349.84 L-26.06,2349.11 L-24.80,2348.47 L-23.18,2347.90 L-21.22,2347.41 L-18.91,2346.99 L-16.25,2346.65 L-13.23,2346.38 L-9.79,2346.19 L-5.78,2346.07 L-0.00,2346.03 L5.78,2346.07 L9.79,2346.19 L13.23,2346.38 L16.25,2346.65 L18.91,2346.99 L21.22,2347.41 L23.18,2347.90 L24.80,2348.47 L26.06,2349.11 L26.97,2349.84 L27.52,2350.70 L27.70,2351.93 Z" fill="#c85600"/>
</g>
<g transform="translate(677.09,0) skewY(-4.130)">
<path d="M-27.70,2713.17 L-27.70,2343.67 L-27.52,2342.44 L-26.97,2341.58 L-26.06,2340.85 L-24.80,2340.21 L-23.18,2339.64 L-21.22,2339.15 L-18.91,2338.73 L-16.25,2338.39 L-13.23,2338.12 L-9.79,2337.93 L-5.78,2337.81 L-0.00,2337.77 L5.78,2337.81 L9.79,2337.93 L13.23,2338.12 L16.25,2338.39 L18.91,2338.73 L21.22,2339.15 L23.18,2339.64 L24.80,2340.21 L26.06,2340.85 L26.97,2341.58 L27.52,2342.44 L27.70,2343.67 L27.70,2713.17 L27.52,2714.40 L26.97,2715.26 L26.06,2715.99 L24.80,2716.63 L23.18,2717.20 L21.22,2717.69 L18.91,2718.11 L16.25,2718.45 L13.23,2718.72 L9.79,2718.91 L5.78,2719.03 L0.00,2719.07 L-5.78,2719.03 L-9.79,2718.91 L-13.23,2718.72 L-16.25,2718.45 L-18.91,2718.11 L-21.22,2717.69 L-23.18,2717.20 L-24.80,2716.63 L-26.06,2715.99 L-26.97,2715.26 L-27.52,2714.40 L-27.70,2713.17 Z" fill="url(#gb_red)"/>
<path d="M-27.70,2343.67 L-27.70,2323.27 L-27.52,2322.04 L-26.97,2321.18 L-26.06,2320.45 L-24.80,2319.81 L-23.18,2319.24 L-21.22,2318.75 L-18.91,2318.33 L-16.25,2317.99 L-13.23,2317.72 L-9.79,2317.53 L-5.78,2317.41 L-0.00,2317.37 L5.78,2317.41 L9.79,2317.53 L13.23,2317.72 L16.25,2317.99 L18.91,2318.33 L21.22,2318.75 L23.18,2319.24 L24.80,2319.81 L26.06,2320.45 L26.97,2321.18 L27.52,2322.04 L27.70,2323.27 L27.70,2343.67 L27.52,2344.90 L26.97,2345.76 L26.06,2346.49 L24.80,2347.13 L23.18,2347.70 L21.22,2348.19 L18.91,2348.61 L16.25,2348.95 L13.23,2349.22 L9.79,2349.41 L5.78,2349.53 L0.00,2349.57 L-5.78,2349.53 L-9.79,2349.41 L-13.23,2349.22 L-16.25,2348.95 L-18.91,2348.61 L-21.22,2348.19 L-23.18,2347.70 L-24.80,2347.13 L-26.06,2346.49 L-26.97,2345.76 L-27.52,2344.90 L-27.70,2343.67 Z" fill="url(#ga_teal)"/>
<path d="M-27.70,2323.27 L-27.70,2302.83 L-27.52,2301.60 L-26.97,2300.74 L-26.06,2300.01 L-24.80,2299.37 L-23.18,2298.80 L-21.22,2298.31 L-18.91,2297.89 L-16.25,2297.55 L-13.23,2297.28 L-9.79,2297.09 L-5.78,2296.97 L-0.00,2296.93 L5.78,2296.97 L9.79,2297.09 L13.23,2297.28 L16.25,2297.55 L18.91,2297.89 L21.22,2298.31 L23.18,2298.80 L24.80,2299.37 L26.06,2300.01 L26.97,2300.74 L27.52,2301.60 L27.70,2302.83 L27.70,2323.27 L27.52,2324.50 L26.97,2325.36 L26.06,2326.09 L24.80,2326.73 L23.18,2327.30 L21.22,2327.79 L18.91,2328.21 L16.25,2328.55 L13.23,2328.82 L9.79,2329.01 L5.78,2329.13 L0.00,2329.17 L-5.78,2329.13 L-9.79,2329.01 L-13.23,2328.82 L-16.25,2328.55 L-18.91,2328.21 L-21.22,2327.79 L-23.18,2327.30 L-24.80,2326.73 L-26.06,2326.09 L-26.97,2325.36 L-27.52,2324.50 L-27.70,2323.27 Z" fill="url(#gb_orange)"/>
<path d="M27.70,2302.83 L27.52,2304.06 L26.97,2304.92 L26.06,2305.65 L24.80,2306.29 L23.18,2306.86 L21.22,2307.35 L18.91,2307.77 L16.25,2308.11 L13.23,2308.38 L9.79,2308.57 L5.78,2308.69 L0.00,2308.73 L-5.78,2308.69 L-9.79,2308.57 L-13.23,2308.38 L-16.25,2308.11 L-18.91,2307.77 L-21.22,2307.35 L-23.18,2306.86 L-24.80,2306.29 L-26.06,2305.65 L-26.97,2304.92 L-27.52,2304.06 L-27.70,2302.83 L-27.52,2301.60 L-26.97,2300.74 L-26.06,2300.01 L-24.80,2299.37 L-23.18,2298.80 L-21.22,2298.31 L-18.91,2297.89 L-16.25,2297.55 L-13.23,2297.28 L-9.79,2297.09 L-5.78,2296.97 L-0.00,2296.93 L5.78,2296.97 L9.79,2297.09 L13.23,2297.28 L16.25,2297.55 L18.91,2297.89 L21.22,2298.31 L23.18,2298.80 L24.80,2299.37 L26.06,2300.01 L26.97,2300.74 L27.52,2301.60 L27.70,2302.83 Z" fill="#c85600"/>
</g>
<g transform="translate(808.94,0) skewY(-4.130)">
<path d="M-27.70,2713.17 L-27.70,2338.97 L-27.52,2337.74 L-26.97,2336.88 L-26.06,2336.15 L-24.80,2335.51 L-23.18,2334.94 L-21.22,2334.45 L-18.91,2334.03 L-16.25,2333.69 L-13.23,2333.42 L-9.79,2333.23 L-5.78,2333.11 L-0.00,2333.07 L5.78,2333.11 L9.79,2333.23 L13.23,2333.42 L16.25,2333.69 L18.91,2334.03 L21.22,2334.45 L23.18,2334.94 L24.80,2335.51 L26.06,2336.15 L26.97,2336.88 L27.52,2337.74 L27.70,2338.97 L27.70,2713.17 L27.52,2714.40 L26.97,2715.26 L26.06,2715.99 L24.80,2716.63 L23.18,2717.20 L21.22,2717.69 L18.91,2718.11 L16.25,2718.45 L13.23,2718.72 L9.79,2718.91 L5.78,2719.03 L0.00,2719.07 L-5.78,2719.03 L-9.79,2718.91 L-13.23,2718.72 L-16.25,2718.45 L-18.91,2718.11 L-21.22,2717.69 L-23.18,2717.20 L-24.80,2716.63 L-26.06,2715.99 L-26.97,2715.26 L-27.52,2714.40 L-27.70,2713.17 Z" fill="url(#gb_red)"/>
<path d="M-27.70,2338.97 L-27.70,2305.47 L-27.52,2304.24 L-26.97,2303.38 L-26.06,2302.65 L-24.80,2302.01 L-23.18,2301.44 L-21.22,2300.95 L-18.91,2300.53 L-16.25,2300.19 L-13.23,2299.92 L-9.79,2299.73 L-5.78,2299.61 L-0.00,2299.57 L5.78,2299.61 L9.79,2299.73 L13.23,2299.92 L16.25,2300.19 L18.91,2300.53 L21.22,2300.95 L23.18,2301.44 L24.80,2302.01 L26.06,2302.65 L26.97,2303.38 L27.52,2304.24 L27.70,2305.47 L27.70,2338.97 L27.52,2340.20 L26.97,2341.06 L26.06,2341.79 L24.80,2342.43 L23.18,2343.00 L21.22,2343.49 L18.91,2343.91 L16.25,2344.25 L13.23,2344.52 L9.79,2344.71 L5.78,2344.83 L0.00,2344.87 L-5.78,2344.83 L-9.79,2344.71 L-13.23,2344.52 L-16.25,2344.25 L-18.91,2343.91 L-21.22,2343.49 L-23.18,2343.00 L-24.80,2342.43 L-26.06,2341.79 L-26.97,2341.06 L-27.52,2340.20 L-27.70,2338.97 Z" fill="url(#ga_teal)"/>
<path d="M-27.70,2305.47 L-27.70,2271.83 L-27.52,2270.60 L-26.97,2269.74 L-26.06,2269.01 L-24.80,2268.37 L-23.18,2267.80 L-21.22,2267.31 L-18.91,2266.89 L-16.25,2266.55 L-13.23,2266.28 L-9.79,2266.09 L-5.78,2265.97 L-0.00,2265.93 L5.78,2265.97 L9.79,2266.09 L13.23,2266.28 L16.25,2266.55 L18.91,2266.89 L21.22,2267.31 L23.18,2267.80 L24.80,2268.37 L26.06,2269.01 L26.97,2269.74 L27.52,2270.60 L27.70,2271.83 L27.70,2305.47 L27.52,2306.70 L26.97,2307.56 L26.06,2308.29 L24.80,2308.93 L23.18,2309.50 L21.22,2309.99 L18.91,2310.41 L16.25,2310.75 L13.23,2311.02 L9.79,2311.21 L5.78,2311.33 L0.00,2311.37 L-5.78,2311.33 L-9.79,2311.21 L-13.23,2311.02 L-16.25,2310.75 L-18.91,2310.41 L-21.22,2309.99 L-23.18,2309.50 L-24.80,2308.93 L-26.06,2308.29 L-26.97,2307.56 L-27.52,2306.70 L-27.70,2305.47 Z" fill="url(#gb_orange)"/>
<path d="M27.70,2271.83 L27.52,2273.06 L26.97,2273.92 L26.06,2274.65 L24.80,2275.29 L23.18,2275.86 L21.22,2276.35 L18.91,2276.77 L16.25,2277.11 L13.23,2277.38 L9.79,2277.57 L5.78,2277.69 L0.00,2277.73 L-5.78,2277.69 L-9.79,2277.57 L-13.23,2277.38 L-16.25,2277.11 L-18.91,2276.77 L-21.22,2276.35 L-23.18,2275.86 L-24.80,2275.29 L-26.06,2274.65 L-26.97,2273.92 L-27.52,2273.06 L-27.70,2271.83 L-27.52,2270.60 L-26.97,2269.74 L-26.06,2269.01 L-24.80,2268.37 L-23.18,2267.80 L-21.22,2267.31 L-18.91,2266.89 L-16.25,2266.55 L-13.23,2266.28 L-9.79,2266.09 L-5.78,2265.97 L-0.00,2265.93 L5.78,2265.97 L9.79,2266.09 L13.23,2266.28 L16.25,2266.55 L18.91,2266.89 L21.22,2267.31 L23.18,2267.80 L24.80,2268.37 L26.06,2269.01 L26.97,2269.74 L27.52,2270.60 L27.70,2271.83 Z" fill="#c85600"/>
</g>
<g transform="translate(940.78,0) skewY(-4.130)">
<path d="M-27.70,2713.17 L-27.70,2387.27 L-27.52,2386.04 L-26.97,2385.18 L-26.06,2384.45 L-24.80,2383.81 L-23.18,2383.24 L-21.22,2382.75 L-18.91,2382.33 L-16.25,2381.99 L-13.23,2381.72 L-9.79,2381.53 L-5.78,2381.41 L-0.00,2381.37 L5.78,2381.41 L9.79,2381.53 L13.23,2381.72 L16.25,2381.99 L18.91,2382.33 L21.22,2382.75 L23.18,2383.24 L24.80,2383.81 L26.06,2384.45 L26.97,2385.18 L27.52,2386.04 L27.70,2387.27 L27.70,2713.17 L27.52,2714.40 L26.97,2715.26 L26.06,2715.99 L24.80,2716.63 L23.18,2717.20 L21.22,2717.69 L18.91,2718.11 L16.25,2718.45 L13.23,2718.72 L9.79,2718.91 L5.78,2719.03 L0.00,2719.07 L-5.78,2719.03 L-9.79,2718.91 L-13.23,2718.72 L-16.25,2718.45 L-18.91,2718.11 L-21.22,2717.69 L-23.18,2717.20 L-24.80,2716.63 L-26.06,2715.99 L-26.97,2715.26 L-27.52,2714.40 L-27.70,2713.17 Z" fill="url(#gb_red)"/>
<path d="M-27.70,2387.27 L-27.70,2347.47 L-27.52,2346.24 L-26.97,2345.38 L-26.06,2344.65 L-24.80,2344.01 L-23.18,2343.44 L-21.22,2342.95 L-18.91,2342.53 L-16.25,2342.19 L-13.23,2341.92 L-9.79,2341.73 L-5.78,2341.61 L-0.00,2341.57 L5.78,2341.61 L9.79,2341.73 L13.23,2341.92 L16.25,2342.19 L18.91,2342.53 L21.22,2342.95 L23.18,2343.44 L24.80,2344.01 L26.06,2344.65 L26.97,2345.38 L27.52,2346.24 L27.70,2347.47 L27.70,2387.27 L27.52,2388.50 L26.97,2389.36 L26.06,2390.09 L24.80,2390.73 L23.18,2391.30 L21.22,2391.79 L18.91,2392.21 L16.25,2392.55 L13.23,2392.82 L9.79,2393.01 L5.78,2393.13 L0.00,2393.17 L-5.78,2393.13 L-9.79,2393.01 L-13.23,2392.82 L-16.25,2392.55 L-18.91,2392.21 L-21.22,2391.79 L-23.18,2391.30 L-24.80,2390.73 L-26.06,2390.09 L-26.97,2389.36 L-27.52,2388.50 L-27.70,2387.27 Z" fill="url(#ga_teal)"/>
<path d="M-27.70,2347.47 L-27.70,2305.13 L-27.52,2303.90 L-26.97,2303.04 L-26.06,2302.31 L-24.80,2301.67 L-23.18,2301.10 L-21.22,2300.61 L-18.91,2300.19 L-16.25,2299.85 L-13.23,2299.58 L-9.79,2299.39 L-5.78,2299.27 L-0.00,2299.23 L5.78,2299.27 L9.79,2299.39 L13.23,2299.58 L16.25,2299.85 L18.91,2300.19 L21.22,2300.61 L23.18,2301.10 L24.80,2301.67 L26.06,2302.31 L26.97,2303.04 L27.52,2303.90 L27.70,2305.13 L27.70,2347.47 L27.52,2348.70 L26.97,2349.56 L26.06,2350.29 L24.80,2350.93 L23.18,2351.50 L21.22,2351.99 L18.91,2352.41 L16.25,2352.75 L13.23,2353.02 L9.79,2353.21 L5.78,2353.33 L0.00,2353.37 L-5.78,2353.33 L-9.79,2353.21 L-13.23,2353.02 L-16.25,2352.75 L-18.91,2352.41 L-21.22,2351.99 L-23.18,2351.50 L-24.80,2350.93 L-26.06,2350.29 L-26.97,2349.56 L-27.52,2348.70 L-27.70,2347.47 Z" fill="url(#gb_orange)"/>
<path d="M27.70,2305.13 L27.52,2306.36 L26.97,2307.22 L26.06,2307.95 L24.80,2308.59 L23.18,2309.16 L21.22,2309.65 L18.91,2310.07 L16.25,2310.41 L13.23,2310.68 L9.79,2310.87 L5.78,2310.99 L0.00,2311.03 L-5.78,2310.99 L-9.79,2310.87 L-13.23,2310.68 L-16.25,2310.41 L-18.91,2310.07 L-21.22,2309.65 L-23.18,2309.16 L-24.80,2308.59 L-26.06,2307.95 L-26.97,2307.22 L-27.52,2306.36 L-27.70,2305.13 L-27.52,2303.90 L-26.97,2303.04 L-26.06,2302.31 L-24.80,2301.67 L-23.18,2301.10 L-21.22,2300.61 L-18.91,2300.19 L-16.25,2299.85 L-13.23,2299.58 L-9.79,2299.39 L-5.78,2299.27 L-0.00,2299.23 L5.78,2299.27 L9.79,2299.39 L13.23,2299.58 L16.25,2299.85 L18.91,2300.19 L21.22,2300.61 L23.18,2301.10 L24.80,2301.67 L26.06,2302.31 L26.97,2303.04 L27.52,2303.90 L27.70,2305.13 Z" fill="#c85600"/>
</g>
<g transform="translate(1072.63,0) skewY(-4.130)">
<path d="M-27.70,2713.17 L-27.70,2370.87 L-27.52,2369.64 L-26.97,2368.78 L-26.06,2368.05 L-24.80,2367.41 L-23.18,2366.84 L-21.22,2366.35 L-18.91,2365.93 L-16.25,2365.59 L-13.23,2365.32 L-9.79,2365.13 L-5.78,2365.01 L-0.00,2364.97 L5.78,2365.01 L9.79,2365.13 L13.23,2365.32 L16.25,2365.59 L18.91,2365.93 L21.22,2366.35 L23.18,2366.84 L24.80,2367.41 L26.06,2368.05 L26.97,2368.78 L27.52,2369.64 L27.70,2370.87 L27.70,2713.17 L27.52,2714.40 L26.97,2715.26 L26.06,2715.99 L24.80,2716.63 L23.18,2717.20 L21.22,2717.69 L18.91,2718.11 L16.25,2718.45 L13.23,2718.72 L9.79,2718.91 L5.78,2719.03 L0.00,2719.07 L-5.78,2719.03 L-9.79,2718.91 L-13.23,2718.72 L-16.25,2718.45 L-18.91,2718.11 L-21.22,2717.69 L-23.18,2717.20 L-24.80,2716.63 L-26.06,2715.99 L-26.97,2715.26 L-27.52,2714.40 L-27.70,2713.17 Z" fill="url(#gb_red)"/>
<path d="M-27.70,2370.87 L-27.70,2313.97 L-27.52,2312.74 L-26.97,2311.88 L-26.06,2311.15 L-24.80,2310.51 L-23.18,2309.94 L-21.22,2309.45 L-18.91,2309.03 L-16.25,2308.69 L-13.23,2308.42 L-9.79,2308.23 L-5.78,2308.11 L-0.00,2308.07 L5.78,2308.11 L9.79,2308.23 L13.23,2308.42 L16.25,2308.69 L18.91,2309.03 L21.22,2309.45 L23.18,2309.94 L24.80,2310.51 L26.06,2311.15 L26.97,2311.88 L27.52,2312.74 L27.70,2313.97 L27.70,2370.87 L27.52,2372.10 L26.97,2372.96 L26.06,2373.69 L24.80,2374.33 L23.18,2374.90 L21.22,2375.39 L18.91,2375.81 L16.25,2376.15 L13.23,2376.42 L9.79,2376.61 L5.78,2376.73 L0.00,2376.77 L-5.78,2376.73 L-9.79,2376.61 L-13.23,2376.42 L-16.25,2376.15 L-18.91,2375.81 L-21.22,2375.39 L-23.18,2374.90 L-24.80,2374.33 L-26.06,2373.69 L-26.97,2372.96 L-27.52,2372.10 L-27.70,2370.87 Z" fill="url(#ga_teal)"/>
<path d="M-27.70,2313.97 L-27.70,2255.43 L-27.52,2254.20 L-26.97,2253.34 L-26.06,2252.61 L-24.80,2251.97 L-23.18,2251.40 L-21.22,2250.91 L-18.91,2250.49 L-16.25,2250.15 L-13.23,2249.88 L-9.79,2249.69 L-5.78,2249.57 L-0.00,2249.53 L5.78,2249.57 L9.79,2249.69 L13.23,2249.88 L16.25,2250.15 L18.91,2250.49 L21.22,2250.91 L23.18,2251.40 L24.80,2251.97 L26.06,2252.61 L26.97,2253.34 L27.52,2254.20 L27.70,2255.43 L27.70,2313.97 L27.52,2315.20 L26.97,2316.06 L26.06,2316.79 L24.80,2317.43 L23.18,2318.00 L21.22,2318.49 L18.91,2318.91 L16.25,2319.25 L13.23,2319.52 L9.79,2319.71 L5.78,2319.83 L0.00,2319.87 L-5.78,2319.83 L-9.79,2319.71 L-13.23,2319.52 L-16.25,2319.25 L-18.91,2318.91 L-21.22,2318.49 L-23.18,2318.00 L-24.80,2317.43 L-26.06,2316.79 L-26.97,2316.06 L-27.52,2315.20 L-27.70,2313.97 Z" fill="url(#gb_orange)"/>
<path d="M27.70,2255.43 L27.52,2256.66 L26.97,2257.52 L26.06,2258.25 L24.80,2258.89 L23.18,2259.46 L21.22,2259.95 L18.91,2260.37 L16.25,2260.71 L13.23,2260.98 L9.79,2261.17 L5.78,2261.29 L0.00,2261.33 L-5.78,2261.29 L-9.79,2261.17 L-13.23,2260.98 L-16.25,2260.71 L-18.91,2260.37 L-21.22,2259.95 L-23.18,2259.46 L-24.80,2258.89 L-26.06,2258.25 L-26.97,2257.52 L-27.52,2256.66 L-27.70,2255.43 L-27.52,2254.20 L-26.97,2253.34 L-26.06,2252.61 L-24.80,2251.97 L-23.18,2251.40 L-21.22,2250.91 L-18.91,2250.49 L-16.25,2250.15 L-13.23,2249.88 L-9.79,2249.69 L-5.78,2249.57 L-0.00,2249.53 L5.78,2249.57 L9.79,2249.69 L13.23,2249.88 L16.25,2250.15 L18.91,2250.49 L21.22,2250.91 L23.18,2251.40 L24.80,2251.97 L26.06,2252.61 L26.97,2253.34 L27.52,2254.20 L27.70,2255.43 Z" fill="#c85600"/>
</g>
<g transform="translate(1204.48,0) skewY(-4.130)">
<path d="M-27.70,2713.17 L-27.70,2379.07 L-27.52,2377.84 L-26.97,2376.98 L-26.06,2376.25 L-24.80,2375.61 L-23.18,2375.04 L-21.22,2374.55 L-18.91,2374.13 L-16.25,2373.79 L-13.23,2373.52 L-9.79,2373.33 L-5.78,2373.21 L-0.00,2373.17 L5.78,2373.21 L9.79,2373.33 L13.23,2373.52 L16.25,2373.79 L18.91,2374.13 L21.22,2374.55 L23.18,2375.04 L24.80,2375.61 L26.06,2376.25 L26.97,2376.98 L27.52,2377.84 L27.70,2379.07 L27.70,2713.17 L27.52,2714.40 L26.97,2715.26 L26.06,2715.99 L24.80,2716.63 L23.18,2717.20 L21.22,2717.69 L18.91,2718.11 L16.25,2718.45 L13.23,2718.72 L9.79,2718.91 L5.78,2719.03 L0.00,2719.07 L-5.78,2719.03 L-9.79,2718.91 L-13.23,2718.72 L-16.25,2718.45 L-18.91,2718.11 L-21.22,2717.69 L-23.18,2717.20 L-24.80,2716.63 L-26.06,2715.99 L-26.97,2715.26 L-27.52,2714.40 L-27.70,2713.17 Z" fill="url(#gb_red)"/>
<path d="M-27.70,2379.07 L-27.70,2307.97 L-27.52,2306.74 L-26.97,2305.88 L-26.06,2305.15 L-24.80,2304.51 L-23.18,2303.94 L-21.22,2303.45 L-18.91,2303.03 L-16.25,2302.69 L-13.23,2302.42 L-9.79,2302.23 L-5.78,2302.11 L-0.00,2302.07 L5.78,2302.11 L9.79,2302.23 L13.23,2302.42 L16.25,2302.69 L18.91,2303.03 L21.22,2303.45 L23.18,2303.94 L24.80,2304.51 L26.06,2305.15 L26.97,2305.88 L27.52,2306.74 L27.70,2307.97 L27.70,2379.07 L27.52,2380.30 L26.97,2381.16 L26.06,2381.89 L24.80,2382.53 L23.18,2383.10 L21.22,2383.59 L18.91,2384.01 L16.25,2384.35 L13.23,2384.62 L9.79,2384.81 L5.78,2384.93 L0.00,2384.97 L-5.78,2384.93 L-9.79,2384.81 L-13.23,2384.62 L-16.25,2384.35 L-18.91,2384.01 L-21.22,2383.59 L-23.18,2383.10 L-24.80,2382.53 L-26.06,2381.89 L-26.97,2381.16 L-27.52,2380.30 L-27.70,2379.07 Z" fill="url(#ga_teal)"/>
<path d="M-27.70,2307.97 L-27.70,2235.83 L-27.52,2234.60 L-26.97,2233.74 L-26.06,2233.01 L-24.80,2232.37 L-23.18,2231.80 L-21.22,2231.31 L-18.91,2230.89 L-16.25,2230.55 L-13.23,2230.28 L-9.79,2230.09 L-5.78,2229.97 L-0.00,2229.93 L5.78,2229.97 L9.79,2230.09 L13.23,2230.28 L16.25,2230.55 L18.91,2230.89 L21.22,2231.31 L23.18,2231.80 L24.80,2232.37 L26.06,2233.01 L26.97,2233.74 L27.52,2234.60 L27.70,2235.83 L27.70,2307.97 L27.52,2309.20 L26.97,2310.06 L26.06,2310.79 L24.80,2311.43 L23.18,2312.00 L21.22,2312.49 L18.91,2312.91 L16.25,2313.25 L13.23,2313.52 L9.79,2313.71 L5.78,2313.83 L0.00,2313.87 L-5.78,2313.83 L-9.79,2313.71 L-13.23,2313.52 L-16.25,2313.25 L-18.91,2312.91 L-21.22,2312.49 L-23.18,2312.00 L-24.80,2311.43 L-26.06,2310.79 L-26.97,2310.06 L-27.52,2309.20 L-27.70,2307.97 Z" fill="url(#gb_orange)"/>
<path d="M27.70,2235.83 L27.52,2237.06 L26.97,2237.92 L26.06,2238.65 L24.80,2239.29 L23.18,2239.86 L21.22,2240.35 L18.91,2240.77 L16.25,2241.11 L13.23,2241.38 L9.79,2241.57 L5.78,2241.69 L0.00,2241.73 L-5.78,2241.69 L-9.79,2241.57 L-13.23,2241.38 L-16.25,2241.11 L-18.91,2240.77 L-21.22,2240.35 L-23.18,2239.86 L-24.80,2239.29 L-26.06,2238.65 L-26.97,2237.92 L-27.52,2237.06 L-27.70,2235.83 L-27.52,2234.60 L-26.97,2233.74 L-26.06,2233.01 L-24.80,2232.37 L-23.18,2231.80 L-21.22,2231.31 L-18.91,2230.89 L-16.25,2230.55 L-13.23,2230.28 L-9.79,2230.09 L-5.78,2229.97 L-0.00,2229.93 L5.78,2229.97 L9.79,2230.09 L13.23,2230.28 L16.25,2230.55 L18.91,2230.89 L21.22,2231.31 L23.18,2231.80 L24.80,2232.37 L26.06,2233.01 L26.97,2233.74 L27.52,2234.60 L27.70,2235.83 Z" fill="#c85600"/>
</g>
<g transform="translate(1336.32,0) skewY(-4.130)">
<path d="M-27.70,2713.17 L-27.70,2369.87 L-27.52,2368.64 L-26.97,2367.78 L-26.06,2367.05 L-24.80,2366.41 L-23.18,2365.84 L-21.22,2365.35 L-18.91,2364.93 L-16.25,2364.59 L-13.23,2364.32 L-9.79,2364.13 L-5.78,2364.01 L-0.00,2363.97 L5.78,2364.01 L9.79,2364.13 L13.23,2364.32 L16.25,2364.59 L18.91,2364.93 L21.22,2365.35 L23.18,2365.84 L24.80,2366.41 L26.06,2367.05 L26.97,2367.78 L27.52,2368.64 L27.70,2369.87 L27.70,2713.17 L27.52,2714.40 L26.97,2715.26 L26.06,2715.99 L24.80,2716.63 L23.18,2717.20 L21.22,2717.69 L18.91,2718.11 L16.25,2718.45 L13.23,2718.72 L9.79,2718.91 L5.78,2719.03 L0.00,2719.07 L-5.78,2719.03 L-9.79,2718.91 L-13.23,2718.72 L-16.25,2718.45 L-18.91,2718.11 L-21.22,2717.69 L-23.18,2717.20 L-24.80,2716.63 L-26.06,2715.99 L-26.97,2715.26 L-27.52,2714.40 L-27.70,2713.17 Z" fill="url(#gb_red)"/>
<path d="M-27.70,2369.87 L-27.70,2277.37 L-27.52,2276.14 L-26.97,2275.28 L-26.06,2274.55 L-24.80,2273.91 L-23.18,2273.34 L-21.22,2272.85 L-18.91,2272.43 L-16.25,2272.09 L-13.23,2271.82 L-9.79,2271.63 L-5.78,2271.51 L-0.00,2271.47 L5.78,2271.51 L9.79,2271.63 L13.23,2271.82 L16.25,2272.09 L18.91,2272.43 L21.22,2272.85 L23.18,2273.34 L24.80,2273.91 L26.06,2274.55 L26.97,2275.28 L27.52,2276.14 L27.70,2277.37 L27.70,2369.87 L27.52,2371.10 L26.97,2371.96 L26.06,2372.69 L24.80,2373.33 L23.18,2373.90 L21.22,2374.39 L18.91,2374.81 L16.25,2375.15 L13.23,2375.42 L9.79,2375.61 L5.78,2375.73 L0.00,2375.77 L-5.78,2375.73 L-9.79,2375.61 L-13.23,2375.42 L-16.25,2375.15 L-18.91,2374.81 L-21.22,2374.39 L-23.18,2373.90 L-24.80,2373.33 L-26.06,2372.69 L-26.97,2371.96 L-27.52,2371.10 L-27.70,2369.87 Z" fill="url(#ga_teal)"/>
<path d="M-27.70,2277.37 L-27.70,2186.03 L-27.52,2184.80 L-26.97,2183.94 L-26.06,2183.21 L-24.80,2182.57 L-23.18,2182.00 L-21.22,2181.51 L-18.91,2181.09 L-16.25,2180.75 L-13.23,2180.48 L-9.79,2180.29 L-5.78,2180.17 L-0.00,2180.13 L5.78,2180.17 L9.79,2180.29 L13.23,2180.48 L16.25,2180.75 L18.91,2181.09 L21.22,2181.51 L23.18,2182.00 L24.80,2182.57 L26.06,2183.21 L26.97,2183.94 L27.52,2184.80 L27.70,2186.03 L27.70,2277.37 L27.52,2278.60 L26.97,2279.46 L26.06,2280.19 L24.80,2280.83 L23.18,2281.40 L21.22,2281.89 L18.91,2282.31 L16.25,2282.65 L13.23,2282.92 L9.79,2283.11 L5.78,2283.23 L0.00,2283.27 L-5.78,2283.23 L-9.79,2283.11 L-13.23,2282.92 L-16.25,2282.65 L-18.91,2282.31 L-21.22,2281.89 L-23.18,2281.40 L-24.80,2280.83 L-26.06,2280.19 L-26.97,2279.46 L-27.52,2278.60 L-27.70,2277.37 Z" fill="url(#gb_orange)"/>
<path d="M27.70,2186.03 L27.52,2187.26 L26.97,2188.12 L26.06,2188.85 L24.80,2189.49 L23.18,2190.06 L21.22,2190.55 L18.91,2190.97 L16.25,2191.31 L13.23,2191.58 L9.79,2191.77 L5.78,2191.89 L0.00,2191.93 L-5.78,2191.89 L-9.79,2191.77 L-13.23,2191.58 L-16.25,2191.31 L-18.91,2190.97 L-21.22,2190.55 L-23.18,2190.06 L-24.80,2189.49 L-26.06,2188.85 L-26.97,2188.12 L-27.52,2187.26 L-27.70,2186.03 L-27.52,2184.80 L-26.97,2183.94 L-26.06,2183.21 L-24.80,2182.57 L-23.18,2182.00 L-21.22,2181.51 L-18.91,2181.09 L-16.25,2180.75 L-13.23,2180.48 L-9.79,2180.29 L-5.78,2180.17 L-0.00,2180.13 L5.78,2180.17 L9.79,2180.29 L13.23,2180.48 L16.25,2180.75 L18.91,2181.09 L21.22,2181.51 L23.18,2182.00 L24.80,2182.57 L26.06,2183.21 L26.97,2183.94 L27.52,2184.80 L27.70,2186.03 Z" fill="#c85600"/>
</g>
<g transform="translate(1468.17,0) skewY(-4.130)">
<path d="M-27.70,2713.17 L-27.70,2359.87 L-27.52,2358.64 L-26.97,2357.78 L-26.06,2357.05 L-24.80,2356.41 L-23.18,2355.84 L-21.22,2355.35 L-18.91,2354.93 L-16.25,2354.59 L-13.23,2354.32 L-9.79,2354.13 L-5.78,2354.01 L-0.00,2353.97 L5.78,2354.01 L9.79,2354.13 L13.23,2354.32 L16.25,2354.59 L18.91,2354.93 L21.22,2355.35 L23.18,2355.84 L24.80,2356.41 L26.06,2357.05 L26.97,2357.78 L27.52,2358.64 L27.70,2359.87 L27.70,2713.17 L27.52,2714.40 L26.97,2715.26 L26.06,2715.99 L24.80,2716.63 L23.18,2717.20 L21.22,2717.69 L18.91,2718.11 L16.25,2718.45 L13.23,2718.72 L9.79,2718.91 L5.78,2719.03 L0.00,2719.07 L-5.78,2719.03 L-9.79,2718.91 L-13.23,2718.72 L-16.25,2718.45 L-18.91,2718.11 L-21.22,2717.69 L-23.18,2717.20 L-24.80,2716.63 L-26.06,2715.99 L-26.97,2715.26 L-27.52,2714.40 L-27.70,2713.17 Z" fill="url(#gb_red)"/>
<path d="M-27.70,2359.87 L-27.70,2242.17 L-27.52,2240.94 L-26.97,2240.08 L-26.06,2239.35 L-24.80,2238.71 L-23.18,2238.14 L-21.22,2237.65 L-18.91,2237.23 L-16.25,2236.89 L-13.23,2236.62 L-9.79,2236.43 L-5.78,2236.31 L-0.00,2236.27 L5.78,2236.31 L9.79,2236.43 L13.23,2236.62 L16.25,2236.89 L18.91,2237.23 L21.22,2237.65 L23.18,2238.14 L24.80,2238.71 L26.06,2239.35 L26.97,2240.08 L27.52,2240.94 L27.70,2242.17 L27.70,2359.87 L27.52,2361.10 L26.97,2361.96 L26.06,2362.69 L24.80,2363.33 L23.18,2363.90 L21.22,2364.39 L18.91,2364.81 L16.25,2365.15 L13.23,2365.42 L9.79,2365.61 L5.78,2365.73 L0.00,2365.77 L-5.78,2365.73 L-9.79,2365.61 L-13.23,2365.42 L-16.25,2365.15 L-18.91,2364.81 L-21.22,2364.39 L-23.18,2363.90 L-24.80,2363.33 L-26.06,2362.69 L-26.97,2361.96 L-27.52,2361.10 L-27.70,2359.87 Z" fill="url(#ga_teal)"/>
<path d="M-27.70,2242.17 L-27.70,2122.83 L-27.52,2121.60 L-26.97,2120.74 L-26.06,2120.01 L-24.80,2119.37 L-23.18,2118.80 L-21.22,2118.31 L-18.91,2117.89 L-16.25,2117.55 L-13.23,2117.28 L-9.79,2117.09 L-5.78,2116.97 L-0.00,2116.93 L5.78,2116.97 L9.79,2117.09 L13.23,2117.28 L16.25,2117.55 L18.91,2117.89 L21.22,2118.31 L23.18,2118.80 L24.80,2119.37 L26.06,2120.01 L26.97,2120.74 L27.52,2121.60 L27.70,2122.83 L27.70,2242.17 L27.52,2243.40 L26.97,2244.26 L26.06,2244.99 L24.80,2245.63 L23.18,2246.20 L21.22,2246.69 L18.91,2247.11 L16.25,2247.45 L13.23,2247.72 L9.79,2247.91 L5.78,2248.03 L0.00,2248.07 L-5.78,2248.03 L-9.79,2247.91 L-13.23,2247.72 L-16.25,2247.45 L-18.91,2247.11 L-21.22,2246.69 L-23.18,2246.20 L-24.80,2245.63 L-26.06,2244.99 L-26.97,2244.26 L-27.52,2243.40 L-27.70,2242.17 Z" fill="url(#gb_orange)"/>
<path d="M27.70,2122.83 L27.52,2124.06 L26.97,2124.92 L26.06,2125.65 L24.80,2126.29 L23.18,2126.86 L21.22,2127.35 L18.91,2127.77 L16.25,2128.11 L13.23,2128.38 L9.79,2128.57 L5.78,2128.69 L0.00,2128.73 L-5.78,2128.69 L-9.79,2128.57 L-13.23,2128.38 L-16.25,2128.11 L-18.91,2127.77 L-21.22,2127.35 L-23.18,2126.86 L-24.80,2126.29 L-26.06,2125.65 L-26.97,2124.92 L-27.52,2124.06 L-27.70,2122.83 L-27.52,2121.60 L-26.97,2120.74 L-26.06,2120.01 L-24.80,2119.37 L-23.18,2118.80 L-21.22,2118.31 L-18.91,2117.89 L-16.25,2117.55 L-13.23,2117.28 L-9.79,2117.09 L-5.78,2116.97 L-0.00,2116.93 L5.78,2116.97 L9.79,2117.09 L13.23,2117.28 L16.25,2117.55 L18.91,2117.89 L21.22,2118.31 L23.18,2118.80 L24.80,2119.37 L26.06,2120.01 L26.97,2120.74 L27.52,2121.60 L27.70,2122.83 Z" fill="#c85600"/>
</g>
<g transform="translate(1600.02,0) skewY(-4.130)">
<path d="M-27.70,2713.17 L-27.70,2346.37 L-27.52,2345.14 L-26.97,2344.28 L-26.06,2343.55 L-24.80,2342.91 L-23.18,2342.34 L-21.22,2341.85 L-18.91,2341.43 L-16.25,2341.09 L-13.23,2340.82 L-9.79,2340.63 L-5.78,2340.51 L-0.00,2340.47 L5.78,2340.51 L9.79,2340.63 L13.23,2340.82 L16.25,2341.09 L18.91,2341.43 L21.22,2341.85 L23.18,2342.34 L24.80,2342.91 L26.06,2343.55 L26.97,2344.28 L27.52,2345.14 L27.70,2346.37 L27.70,2713.17 L27.52,2714.40 L26.97,2715.26 L26.06,2715.99 L24.80,2716.63 L23.18,2717.20 L21.22,2717.69 L18.91,2718.11 L16.25,2718.45 L13.23,2718.72 L9.79,2718.91 L5.78,2719.03 L0.00,2719.07 L-5.78,2719.03 L-9.79,2718.91 L-13.23,2718.72 L-16.25,2718.45 L-18.91,2718.11 L-21.22,2717.69 L-23.18,2717.20 L-24.80,2716.63 L-26.06,2715.99 L-26.97,2715.26 L-27.52,2714.40 L-27.70,2713.17 Z" fill="url(#gb_red)"/>
<path d="M-27.70,2346.37 L-27.70,2196.27 L-27.52,2195.04 L-26.97,2194.18 L-26.06,2193.45 L-24.80,2192.81 L-23.18,2192.24 L-21.22,2191.75 L-18.91,2191.33 L-16.25,2190.99 L-13.23,2190.72 L-9.79,2190.53 L-5.78,2190.41 L-0.00,2190.37 L5.78,2190.41 L9.79,2190.53 L13.23,2190.72 L16.25,2190.99 L18.91,2191.33 L21.22,2191.75 L23.18,2192.24 L24.80,2192.81 L26.06,2193.45 L26.97,2194.18 L27.52,2195.04 L27.70,2196.27 L27.70,2346.37 L27.52,2347.60 L26.97,2348.46 L26.06,2349.19 L24.80,2349.83 L23.18,2350.40 L21.22,2350.89 L18.91,2351.31 L16.25,2351.65 L13.23,2351.92 L9.79,2352.11 L5.78,2352.23 L0.00,2352.27 L-5.78,2352.23 L-9.79,2352.11 L-13.23,2351.92 L-16.25,2351.65 L-18.91,2351.31 L-21.22,2350.89 L-23.18,2350.40 L-24.80,2349.83 L-26.06,2349.19 L-26.97,2348.46 L-27.52,2347.60 L-27.70,2346.37 Z" fill="url(#ga_teal)"/>
<path d="M-27.70,2196.27 L-27.70,2044.73 L-27.52,2043.50 L-26.97,2042.64 L-26.06,2041.91 L-24.80,2041.27 L-23.18,2040.70 L-21.22,2040.21 L-18.91,2039.79 L-16.25,2039.45 L-13.23,2039.18 L-9.79,2038.99 L-5.78,2038.87 L-0.00,2038.83 L5.78,2038.87 L9.79,2038.99 L13.23,2039.18 L16.25,2039.45 L18.91,2039.79 L21.22,2040.21 L23.18,2040.70 L24.80,2041.27 L26.06,2041.91 L26.97,2042.64 L27.52,2043.50 L27.70,2044.73 L27.70,2196.27 L27.52,2197.50 L26.97,2198.36 L26.06,2199.09 L24.80,2199.73 L23.18,2200.30 L21.22,2200.79 L18.91,2201.21 L16.25,2201.55 L13.23,2201.82 L9.79,2202.01 L5.78,2202.13 L0.00,2202.17 L-5.78,2202.13 L-9.79,2202.01 L-13.23,2201.82 L-16.25,2201.55 L-18.91,2201.21 L-21.22,2200.79 L-23.18,2200.30 L-24.80,2199.73 L-26.06,2199.09 L-26.97,2198.36 L-27.52,2197.50 L-27.70,2196.27 Z" fill="url(#gb_orange)"/>
<path d="M27.70,2044.73 L27.52,2045.96 L26.97,2046.82 L26.06,2047.55 L24.80,2048.19 L23.18,2048.76 L21.22,2049.25 L18.91,2049.67 L16.25,2050.01 L13.23,2050.28 L9.79,2050.47 L5.78,2050.59 L0.00,2050.63 L-5.78,2050.59 L-9.79,2050.47 L-13.23,2050.28 L-16.25,2050.01 L-18.91,2049.67 L-21.22,2049.25 L-23.18,2048.76 L-24.80,2048.19 L-26.06,2047.55 L-26.97,2046.82 L-27.52,2045.96 L-27.70,2044.73 L-27.52,2043.50 L-26.97,2042.64 L-26.06,2041.91 L-24.80,2041.27 L-23.18,2040.70 L-21.22,2040.21 L-18.91,2039.79 L-16.25,2039.45 L-13.23,2039.18 L-9.79,2038.99 L-5.78,2038.87 L-0.00,2038.83 L5.78,2038.87 L9.79,2038.99 L13.23,2039.18 L16.25,2039.45 L18.91,2039.79 L21.22,2040.21 L23.18,2040.70 L24.80,2041.27 L26.06,2041.91 L26.97,2042.64 L27.52,2043.50 L27.70,2044.73 Z" fill="#c85600"/>
</g>
<g transform="translate(1731.86,0) skewY(-4.130)">
<path d="M-27.70,2713.17 L-27.70,2354.47 L-27.52,2353.24 L-26.97,2352.38 L-26.06,2351.65 L-24.80,2351.01 L-23.18,2350.44 L-21.22,2349.95 L-18.91,2349.53 L-16.25,2349.19 L-13.23,2348.92 L-9.79,2348.73 L-5.78,2348.61 L-0.00,2348.57 L5.78,2348.61 L9.79,2348.73 L13.23,2348.92 L16.25,2349.19 L18.91,2349.53 L21.22,2349.95 L23.18,2350.44 L24.80,2351.01 L26.06,2351.65 L26.97,2352.38 L27.52,2353.24 L27.70,2354.47 L27.70,2713.17 L27.52,2714.40 L26.97,2715.26 L26.06,2715.99 L24.80,2716.63 L23.18,2717.20 L21.22,2717.69 L18.91,2718.11 L16.25,2718.45 L13.23,2718.72 L9.79,2718.91 L5.78,2719.03 L0.00,2719.07 L-5.78,2719.03 L-9.79,2718.91 L-13.23,2718.72 L-16.25,2718.45 L-18.91,2718.11 L-21.22,2717.69 L-23.18,2717.20 L-24.80,2716.63 L-26.06,2715.99 L-26.97,2715.26 L-27.52,2714.40 L-27.70,2713.17 Z" fill="url(#gb_red)"/>
<path d="M-27.70,2354.47 L-27.70,2177.27 L-27.52,2176.04 L-26.97,2175.18 L-26.06,2174.45 L-24.80,2173.81 L-23.18,2173.24 L-21.22,2172.75 L-18.91,2172.33 L-16.25,2171.99 L-13.23,2171.72 L-9.79,2171.53 L-5.78,2171.41 L-0.00,2171.37 L5.78,2171.41 L9.79,2171.53 L13.23,2171.72 L16.25,2171.99 L18.91,2172.33 L21.22,2172.75 L23.18,2173.24 L24.80,2173.81 L26.06,2174.45 L26.97,2175.18 L27.52,2176.04 L27.70,2177.27 L27.70,2354.47 L27.52,2355.70 L26.97,2356.56 L26.06,2357.29 L24.80,2357.93 L23.18,2358.50 L21.22,2358.99 L18.91,2359.41 L16.25,2359.75 L13.23,2360.02 L9.79,2360.21 L5.78,2360.33 L0.00,2360.37 L-5.78,2360.33 L-9.79,2360.21 L-13.23,2360.02 L-16.25,2359.75 L-18.91,2359.41 L-21.22,2358.99 L-23.18,2358.50 L-24.80,2357.93 L-26.06,2357.29 L-26.97,2356.56 L-27.52,2355.70 L-27.70,2354.47 Z" fill="url(#ga_teal)"/>
<path d="M-27.70,2177.27 L-27.70,1995.83 L-27.52,1994.60 L-26.97,1993.74 L-26.06,1993.01 L-24.80,1992.37 L-23.18,1991.80 L-21.22,1991.31 L-18.91,1990.89 L-16.25,1990.55 L-13.23,1990.28 L-9.79,1990.09 L-5.78,1989.97 L-0.00,1989.93 L5.78,1989.97 L9.79,1990.09 L13.23,1990.28 L16.25,1990.55 L18.91,1990.89 L21.22,1991.31 L23.18,1991.80 L24.80,1992.37 L26.06,1993.01 L26.97,1993.74 L27.52,1994.60 L27.70,1995.83 L27.70,2177.27 L27.52,2178.50 L26.97,2179.36 L26.06,2180.09 L24.80,2180.73 L23.18,2181.30 L21.22,2181.79 L18.91,2182.21 L16.25,2182.55 L13.23,2182.82 L9.79,2183.01 L5.78,2183.13 L0.00,2183.17 L-5.78,2183.13 L-9.79,2183.01 L-13.23,2182.82 L-16.25,2182.55 L-18.91,2182.21 L-21.22,2181.79 L-23.18,2181.30 L-24.80,2180.73 L-26.06,2180.09 L-26.97,2179.36 L-27.52,2178.50 L-27.70,2177.27 Z" fill="url(#gb_orange)"/>
<path d="M27.70,1995.83 L27.52,1997.06 L26.97,1997.92 L26.06,1998.65 L24.80,1999.29 L23.18,1999.86 L21.22,2000.35 L18.91,2000.77 L16.25,2001.11 L13.23,2001.38 L9.79,2001.57 L5.78,2001.69 L0.00,2001.73 L-5.78,2001.69 L-9.79,2001.57 L-13.23,2001.38 L-16.25,2001.11 L-18.91,2000.77 L-21.22,2000.35 L-23.18,1999.86 L-24.80,1999.29 L-26.06,1998.65 L-26.97,1997.92 L-27.52,1997.06 L-27.70,1995.83 L-27.52,1994.60 L-26.97,1993.74 L-26.06,1993.01 L-24.80,1992.37 L-23.18,1991.80 L-21.22,1991.31 L-18.91,1990.89 L-16.25,1990.55 L-13.23,1990.28 L-9.79,1990.09 L-5.78,1989.97 L-0.00,1989.93 L5.78,1989.97 L9.79,1990.09 L13.23,1990.28 L16.25,1990.55 L18.91,1990.89 L21.22,1991.31 L23.18,1991.80 L24.80,1992.37 L26.06,1993.01 L26.97,1993.74 L27.52,1994.60 L27.70,1995.83 Z" fill="#c85600"/>
</g>
<g transform="translate(1863.71,0) skewY(-4.130)">
<path d="M-27.70,2713.17 L-27.70,2351.47 L-27.52,2350.24 L-26.97,2349.38 L-26.06,2348.65 L-24.80,2348.01 L-23.18,2347.44 L-21.22,2346.95 L-18.91,2346.53 L-16.25,2346.19 L-13.23,2345.92 L-9.79,2345.73 L-5.78,2345.61 L-0.00,2345.57 L5.78,2345.61 L9.79,2345.73 L13.23,2345.92 L16.25,2346.19 L18.91,2346.53 L21.22,2346.95 L23.18,2347.44 L24.80,2348.01 L26.06,2348.65 L26.97,2349.38 L27.52,2350.24 L27.70,2351.47 L27.70,2713.17 L27.52,2714.40 L26.97,2715.26 L26.06,2715.99 L24.80,2716.63 L23.18,2717.20 L21.22,2717.69 L18.91,2718.11 L16.25,2718.45 L13.23,2718.72 L9.79,2718.91 L5.78,2719.03 L0.00,2719.07 L-5.78,2719.03 L-9.79,2718.91 L-13.23,2718.72 L-16.25,2718.45 L-18.91,2718.11 L-21.22,2717.69 L-23.18,2717.20 L-24.80,2716.63 L-26.06,2715.99 L-26.97,2715.26 L-27.52,2714.40 L-27.70,2713.17 Z" fill="url(#gb_red)"/>
<path d="M-27.70,2351.47 L-27.70,2129.07 L-27.52,2127.84 L-26.97,2126.98 L-26.06,2126.25 L-24.80,2125.61 L-23.18,2125.04 L-21.22,2124.55 L-18.91,2124.13 L-16.25,2123.79 L-13.23,2123.52 L-9.79,2123.33 L-5.78,2123.21 L-0.00,2123.17 L5.78,2123.21 L9.79,2123.33 L13.23,2123.52 L16.25,2123.79 L18.91,2124.13 L21.22,2124.55 L23.18,2125.04 L24.80,2125.61 L26.06,2126.25 L26.97,2126.98 L27.52,2127.84 L27.70,2129.07 L27.70,2351.47 L27.52,2352.70 L26.97,2353.56 L26.06,2354.29 L24.80,2354.93 L23.18,2355.50 L21.22,2355.99 L18.91,2356.41 L16.25,2356.75 L13.23,2357.02 L9.79,2357.21 L5.78,2357.33 L0.00,2357.37 L-5.78,2357.33 L-9.79,2357.21 L-13.23,2357.02 L-16.25,2356.75 L-18.91,2356.41 L-21.22,2355.99 L-23.18,2355.50 L-24.80,2354.93 L-26.06,2354.29 L-26.97,2353.56 L-27.52,2352.70 L-27.70,2351.47 Z" fill="url(#ga_teal)"/>
<path d="M-27.70,2129.07 L-27.70,1905.23 L-27.52,1904.00 L-26.97,1903.14 L-26.06,1902.41 L-24.80,1901.77 L-23.18,1901.20 L-21.22,1900.71 L-18.91,1900.29 L-16.25,1899.95 L-13.23,1899.68 L-9.79,1899.49 L-5.78,1899.37 L-0.00,1899.33 L5.78,1899.37 L9.79,1899.49 L13.23,1899.68 L16.25,1899.95 L18.91,1900.29 L21.22,1900.71 L23.18,1901.20 L24.80,1901.77 L26.06,1902.41 L26.97,1903.14 L27.52,1904.00 L27.70,1905.23 L27.70,2129.07 L27.52,2130.30 L26.97,2131.16 L26.06,2131.89 L24.80,2132.53 L23.18,2133.10 L21.22,2133.59 L18.91,2134.01 L16.25,2134.35 L13.23,2134.62 L9.79,2134.81 L5.78,2134.93 L0.00,2134.97 L-5.78,2134.93 L-9.79,2134.81 L-13.23,2134.62 L-16.25,2134.35 L-18.91,2134.01 L-21.22,2133.59 L-23.18,2133.10 L-24.80,2132.53 L-26.06,2131.89 L-26.97,2131.16 L-27.52,2130.30 L-27.70,2129.07 Z" fill="url(#gb_orange)"/>
<path d="M27.70,1905.23 L27.52,1906.46 L26.97,1907.32 L26.06,1908.05 L24.80,1908.69 L23.18,1909.26 L21.22,1909.75 L18.91,1910.17 L16.25,1910.51 L13.23,1910.78 L9.79,1910.97 L5.78,1911.09 L0.00,1911.13 L-5.78,1911.09 L-9.79,1910.97 L-13.23,1910.78 L-16.25,1910.51 L-18.91,1910.17 L-21.22,1909.75 L-23.18,1909.26 L-24.80,1908.69 L-26.06,1908.05 L-26.97,1907.32 L-27.52,1906.46 L-27.70,1905.23 L-27.52,1904.00 L-26.97,1903.14 L-26.06,1902.41 L-24.80,1901.77 L-23.18,1901.20 L-21.22,1900.71 L-18.91,1900.29 L-16.25,1899.95 L-13.23,1899.68 L-9.79,1899.49 L-5.78,1899.37 L-0.00,1899.33 L5.78,1899.37 L9.79,1899.49 L13.23,1899.68 L16.25,1899.95 L18.91,1900.29 L21.22,1900.71 L23.18,1901.20 L24.80,1901.77 L26.06,1902.41 L26.97,1903.14 L27.52,1904.00 L27.70,1905.23 Z" fill="#c85600"/>
</g>
<g transform="translate(1995.55,0) skewY(-4.130)">
<path d="M-27.70,2713.17 L-27.70,2354.47 L-27.52,2353.24 L-26.97,2352.38 L-26.06,2351.65 L-24.80,2351.01 L-23.18,2350.44 L-21.22,2349.95 L-18.91,2349.53 L-16.25,2349.19 L-13.23,2348.92 L-9.79,2348.73 L-5.78,2348.61 L-0.00,2348.57 L5.78,2348.61 L9.79,2348.73 L13.23,2348.92 L16.25,2349.19 L18.91,2349.53 L21.22,2349.95 L23.18,2350.44 L24.80,2351.01 L26.06,2351.65 L26.97,2352.38 L27.52,2353.24 L27.70,2354.47 L27.70,2713.17 L27.52,2714.40 L26.97,2715.26 L26.06,2715.99 L24.80,2716.63 L23.18,2717.20 L21.22,2717.69 L18.91,2718.11 L16.25,2718.45 L13.23,2718.72 L9.79,2718.91 L5.78,2719.03 L0.00,2719.07 L-5.78,2719.03 L-9.79,2718.91 L-13.23,2718.72 L-16.25,2718.45 L-18.91,2718.11 L-21.22,2717.69 L-23.18,2717.20 L-24.80,2716.63 L-26.06,2715.99 L-26.97,2715.26 L-27.52,2714.40 L-27.70,2713.17 Z" fill="url(#gb_red)"/>
<path d="M-27.70,2354.47 L-27.70,2088.22 L-27.52,2086.99 L-26.97,2086.13 L-26.06,2085.40 L-24.80,2084.76 L-23.18,2084.19 L-21.22,2083.70 L-18.91,2083.28 L-16.25,2082.94 L-13.23,2082.67 L-9.79,2082.48 L-5.78,2082.36 L-0.00,2082.32 L5.78,2082.36 L9.79,2082.48 L13.23,2082.67 L16.25,2082.94 L18.91,2083.28 L21.22,2083.70 L23.18,2084.19 L24.80,2084.76 L26.06,2085.40 L26.97,2086.13 L27.52,2086.99 L27.70,2088.22 L27.70,2354.47 L27.52,2355.70 L26.97,2356.56 L26.06,2357.29 L24.80,2357.93 L23.18,2358.50 L21.22,2358.99 L18.91,2359.41 L16.25,2359.75 L13.23,2360.02 L9.79,2360.21 L5.78,2360.33 L0.00,2360.37 L-5.78,2360.33 L-9.79,2360.21 L-13.23,2360.02 L-16.25,2359.75 L-18.91,2359.41 L-21.22,2358.99 L-23.18,2358.50 L-24.80,2357.93 L-26.06,2357.29 L-26.97,2356.56 L-27.52,2355.70 L-27.70,2354.47 Z" fill="url(#ga_teal)"/>
<path d="M-27.70,2088.22 L-27.70,1817.13 L-27.52,1815.90 L-26.97,1815.04 L-26.06,1814.31 L-24.80,1813.67 L-23.18,1813.10 L-21.22,1812.61 L-18.91,1812.19 L-16.25,1811.85 L-13.23,1811.58 L-9.79,1811.39 L-5.78,1811.27 L-0.00,1811.23 L5.78,1811.27 L9.79,1811.39 L13.23,1811.58 L16.25,1811.85 L18.91,1812.19 L21.22,1812.61 L23.18,1813.10 L24.80,1813.67 L26.06,1814.31 L26.97,1815.04 L27.52,1815.90 L27.70,1817.13 L27.70,2088.22 L27.52,2089.45 L26.97,2090.31 L26.06,2091.04 L24.80,2091.68 L23.18,2092.25 L21.22,2092.74 L18.91,2093.16 L16.25,2093.50 L13.23,2093.77 L9.79,2093.96 L5.78,2094.08 L0.00,2094.12 L-5.78,2094.08 L-9.79,2093.96 L-13.23,2093.77 L-16.25,2093.50 L-18.91,2093.16 L-21.22,2092.74 L-23.18,2092.25 L-24.80,2091.68 L-26.06,2091.04 L-26.97,2090.31 L-27.52,2089.45 L-27.70,2088.22 Z" fill="url(#gb_orange)"/>
<path d="M27.70,1817.13 L27.52,1818.36 L26.97,1819.22 L26.06,1819.95 L24.80,1820.59 L23.18,1821.16 L21.22,1821.65 L18.91,1822.07 L16.25,1822.41 L13.23,1822.68 L9.79,1822.87 L5.78,1822.99 L0.00,1823.03 L-5.78,1822.99 L-9.79,1822.87 L-13.23,1822.68 L-16.25,1822.41 L-18.91,1822.07 L-21.22,1821.65 L-23.18,1821.16 L-24.80,1820.59 L-26.06,1819.95 L-26.97,1819.22 L-27.52,1818.36 L-27.70,1817.13 L-27.52,1815.90 L-26.97,1815.04 L-26.06,1814.31 L-24.80,1813.67 L-23.18,1813.10 L-21.22,1812.61 L-18.91,1812.19 L-16.25,1811.85 L-13.23,1811.58 L-9.79,1811.39 L-5.78,1811.27 L-0.00,1811.23 L5.78,1811.27 L9.79,1811.39 L13.23,1811.58 L16.25,1811.85 L18.91,1812.19 L21.22,1812.61 L23.18,1813.10 L24.80,1813.67 L26.06,1814.31 L26.97,1815.04 L27.52,1815.90 L27.70,1817.13 Z" fill="#c85600"/>
</g>
<g fill="#000" style="font-variant-ligatures:none;font-feature-settings:'liga' 0">
<rect x="860" y="31" width="47" height="47" fill="#988850"/>
<rect x="860" y="159.5" width="47" height="47" fill="#00879f"/>
<rect x="860" y="288" width="47" height="47" fill="#da504c"/>
<text transform="translate(927.05,79.00) scale(0.8357,0.8200)" font-family="Carlito, 'Liberation Sans', sans-serif" font-weight="normal" font-size="100" textLength="209.67" lengthAdjust="spacingAndGlyphs">EtOH</text>
<text transform="translate(926.69,206.70) scale(0.8372,0.8200)" font-family="Carlito, 'Liberation Sans', sans-serif" font-weight="normal" font-size="100" textLength="394.05" lengthAdjust="spacingAndGlyphs">Castor Oil</text>
<text transform="translate(926.05,334.40) scale(0.8353,0.8200)" font-family="Carlito, 'Liberation Sans', sans-serif" font-weight="normal" font-size="100" textLength="490.09" lengthAdjust="spacingAndGlyphs">Fossil Diesel</text>
<text transform="translate(273.30,1078.30) scale(0.8450)" font-family="Carlito, 'Liberation Sans', sans-serif" font-size="100" text-anchor="end" textLength="50.69" lengthAdjust="spacingAndGlyphs">0</text>
<text transform="translate(273.30,893.80) scale(0.8450)" font-family="Carlito, 'Liberation Sans', sans-serif" font-size="100" text-anchor="end" textLength="50.69" lengthAdjust="spacingAndGlyphs">2</text>
<text transform="translate(273.30,709.30) scale(0.8450)" font-family="Carlito, 'Liberation Sans', sans-serif" font-size="100" text-anchor="end" textLength="50.69" lengthAdjust="spacingAndGlyphs">4</text>
<text transform="translate(273.30,524.80) scale(0.8450)" font-family="Carlito, 'Liberation Sans', sans-serif" font-size="100" text-anchor="end" textLength="50.69" lengthAdjust="spacingAndGlyphs">6</text>
<text transform="translate(273.30,340.30) scale(0.8450)" font-family="Carlito, 'Liberation Sans', sans-serif" font-size="100" text-anchor="end" textLength="50.69" lengthAdjust="spacingAndGlyphs">8</text>
<text transform="translate(273.30,155.80) scale(0.8450)" font-family="Carlito, 'Liberation Sans', sans-serif" font-size="100" text-anchor="end" textLength="101.38" lengthAdjust="spacingAndGlyphs">10</text>
<text transform="translate(435.17,1182.00) scale(0.8450)" font-family="Carlito, 'Liberation Sans', sans-serif" font-size="100" text-anchor="middle" textLength="50.69" lengthAdjust="spacingAndGlyphs">0</text>
<text transform="translate(605.50,1182.00) scale(0.8450)" font-family="Carlito, 'Liberation Sans', sans-serif" font-size="100" text-anchor="middle" textLength="50.69" lengthAdjust="spacingAndGlyphs">5</text>
<text transform="translate(775.83,1182.00) scale(0.8450)" font-family="Carlito, 'Liberation Sans', sans-serif" font-size="100" text-anchor="middle" textLength="101.38" lengthAdjust="spacingAndGlyphs">10</text>
<text transform="translate(946.16,1182.00) scale(0.8450)" font-family="Carlito, 'Liberation Sans', sans-serif" font-size="100" text-anchor="middle" textLength="101.38" lengthAdjust="spacingAndGlyphs">15</text>
<text transform="translate(1116.49,1182.00) scale(0.8450)" font-family="Carlito, 'Liberation Sans', sans-serif" font-size="100" text-anchor="middle" textLength="101.38" lengthAdjust="spacingAndGlyphs">20</text>
<text transform="translate(1286.82,1182.00) scale(0.8450)" font-family="Carlito, 'Liberation Sans', sans-serif" font-size="100" text-anchor="middle" textLength="101.38" lengthAdjust="spacingAndGlyphs">25</text>
<text transform="translate(1457.14,1182.00) scale(0.8450)" font-family="Carlito, 'Liberation Sans', sans-serif" font-size="100" text-anchor="middle" textLength="101.38" lengthAdjust="spacingAndGlyphs">30</text>
<text transform="translate(1627.48,1182.00) scale(0.8450)" font-family="Carlito, 'Liberation Sans', sans-serif" font-size="100" text-anchor="middle" textLength="101.38" lengthAdjust="spacingAndGlyphs">35</text>
<text transform="translate(1797.81,1182.00) scale(0.8450)" font-family="Carlito, 'Liberation Sans', sans-serif" font-size="100" text-anchor="middle" textLength="101.38" lengthAdjust="spacingAndGlyphs">40</text>
<text transform="translate(1968.14,1182.00) scale(0.8450)" font-family="Carlito, 'Liberation Sans', sans-serif" font-size="100" text-anchor="middle" textLength="101.38" lengthAdjust="spacingAndGlyphs">45</text>
<text transform="translate(661.98,1308.00) scale(0.8368,0.8170)" font-family="Carlito, 'Liberation Sans', sans-serif" font-weight="bold" font-size="100" textLength="1293.36" lengthAdjust="spacingAndGlyphs">Diesel Additive (CO + EtOH) (%)</text>
<text transform="translate(85.80,802.00) rotate(-90) scale(0.8768,0.8700)" font-family="Carlito, 'Liberation Sans', sans-serif" font-weight="bold" font-size="100" textLength="573.89" lengthAdjust="spacingAndGlyphs">Viscosity (cSt)</text>
<rect x="827" y="1762" width="46" height="47" fill="#ff6a00"/>
<rect x="827" y="1889" width="46" height="47" fill="#00849e"/>
<rect x="827" y="2016" width="46" height="47" fill="#a93131"/>
<text transform="translate(892.22,1810.00) scale(0.8369,0.8200)" font-family="Carlito, 'Liberation Sans', sans-serif" font-weight="normal" font-size="100" textLength="347.47" lengthAdjust="spacingAndGlyphs">2-ProOH</text>
<text transform="translate(893.89,1935.70) scale(0.8362,0.8200)" font-family="Carlito, 'Liberation Sans', sans-serif" font-weight="normal" font-size="100" textLength="394.05" lengthAdjust="spacingAndGlyphs">Castor Oil</text>
<text transform="translate(893.65,2063.30) scale(0.8351,0.8200)" font-family="Carlito, 'Liberation Sans', sans-serif" font-weight="normal" font-size="100" textLength="490.09" lengthAdjust="spacingAndGlyphs">Fossil Diesel</text>
<text transform="translate(247.30,2759.50) scale(0.8450)" font-family="Carlito, 'Liberation Sans', sans-serif" font-size="100" text-anchor="end" textLength="50.69" lengthAdjust="spacingAndGlyphs">0</text>
<text transform="translate(247.30,2520.85) scale(0.8450)" font-family="Carlito, 'Liberation Sans', sans-serif" font-size="100" text-anchor="end" textLength="50.69" lengthAdjust="spacingAndGlyphs">2</text>
<text transform="translate(247.30,2282.20) scale(0.8450)" font-family="Carlito, 'Liberation Sans', sans-serif" font-size="100" text-anchor="end" textLength="50.69" lengthAdjust="spacingAndGlyphs">4</text>
<text transform="translate(247.30,2043.55) scale(0.8450)" font-family="Carlito, 'Liberation Sans', sans-serif" font-size="100" text-anchor="end" textLength="50.69" lengthAdjust="spacingAndGlyphs">6</text>
<text transform="translate(247.30,1804.90) scale(0.8450)" font-family="Carlito, 'Liberation Sans', sans-serif" font-size="100" text-anchor="end" textLength="50.69" lengthAdjust="spacingAndGlyphs">8</text>
<text transform="translate(391.42,2864.00) scale(0.8450)" font-family="Carlito, 'Liberation Sans', sans-serif" font-size="100" text-anchor="middle" textLength="50.69" lengthAdjust="spacingAndGlyphs">0</text>
<text transform="translate(523.27,2864.00) scale(0.8450)" font-family="Carlito, 'Liberation Sans', sans-serif" font-size="100" text-anchor="middle" textLength="50.69" lengthAdjust="spacingAndGlyphs">5</text>
<text transform="translate(655.12,2864.00) scale(0.8450)" font-family="Carlito, 'Liberation Sans', sans-serif" font-size="100" text-anchor="middle" textLength="101.38" lengthAdjust="spacingAndGlyphs">10</text>
<text transform="translate(786.96,2864.00) scale(0.8450)" font-family="Carlito, 'Liberation Sans', sans-serif" font-size="100" text-anchor="middle" textLength="101.38" lengthAdjust="spacingAndGlyphs">15</text>
<text transform="translate(918.81,2864.00) scale(0.8450)" font-family="Carlito, 'Liberation Sans', sans-serif" font-size="100" text-anchor="middle" textLength="101.38" lengthAdjust="spacingAndGlyphs">20</text>
<text transform="translate(1050.65,2864.00) scale(0.8450)" font-family="Carlito, 'Liberation Sans', sans-serif" font-size="100" text-anchor="middle" textLength="101.38" lengthAdjust="spacingAndGlyphs">25</text>
<text transform="translate(1182.50,2864.00) scale(0.8450)" font-family="Carlito, 'Liberation Sans', sans-serif" font-size="100" text-anchor="middle" textLength="101.38" lengthAdjust="spacingAndGlyphs">30</text>
<text transform="translate(1314.35,2864.00) scale(0.8450)" font-family="Carlito, 'Liberation Sans', sans-serif" font-size="100" text-anchor="middle" textLength="101.38" lengthAdjust="spacingAndGlyphs">35</text>
<text transform="translate(1446.19,2864.00) scale(0.8450)" font-family="Carlito, 'Liberation Sans', sans-serif" font-size="100" text-anchor="middle" textLength="101.38" lengthAdjust="spacingAndGlyphs">40</text>
<text transform="translate(1578.04,2864.00) scale(0.8450)" font-family="Carlito, 'Liberation Sans', sans-serif" font-size="100" text-anchor="middle" textLength="101.38" lengthAdjust="spacingAndGlyphs">45</text>
<text transform="translate(1709.88,2864.00) scale(0.8450)" font-family="Carlito, 'Liberation Sans', sans-serif" font-size="100" text-anchor="middle" textLength="101.38" lengthAdjust="spacingAndGlyphs">50</text>
<text transform="translate(1841.73,2864.00) scale(0.8450)" font-family="Carlito, 'Liberation Sans', sans-serif" font-size="100" text-anchor="middle" textLength="101.38" lengthAdjust="spacingAndGlyphs">55</text>
<text transform="translate(1973.58,2864.00) scale(0.8450)" font-family="Carlito, 'Liberation Sans', sans-serif" font-size="100" text-anchor="middle" textLength="101.38" lengthAdjust="spacingAndGlyphs">60</text>
<text transform="translate(544.88,2999.50) scale(0.8361,0.8170)" font-family="Carlito, 'Liberation Sans', sans-serif" font-weight="bold" font-size="100" textLength="1433.98" lengthAdjust="spacingAndGlyphs">Diesel Additive (CO + 2-ProOH) (%)</text>
<text transform="translate(108.60,2499.00) rotate(-90) scale(0.8785,0.8700)" font-family="Carlito, 'Liberation Sans', sans-serif" font-weight="bold" font-size="100" textLength="573.89" lengthAdjust="spacingAndGlyphs">Viscosity (cSt)</text>
<text x="1119.40" y="1589.50" font-family="'TeX Gyre Pagella', 'Liberation Serif', serif" font-size="71">(</text>
<text x="1148.60" y="1589.00" font-family="'TeX Gyre Pagella', 'Liberation Serif', serif" font-size="75" font-weight="bold">a</text>
<text x="1182.40" y="1589.50" font-family="'TeX Gyre Pagella', 'Liberation Serif', serif" font-size="71">)</text>
<text x="1115.50" y="3253.20" font-family="'TeX Gyre Pagella', 'Liberation Serif', serif" font-size="71">(</text>
<text x="1145.30" y="3253.70" font-family="'TeX Gyre Pagella', 'Liberation Serif', serif" font-size="75" font-weight="bold">b</text>
<text x="1187.40" y="3253.20" font-family="'TeX Gyre Pagella', 'Liberation Serif', serif" font-size="71">)</text>
</g>
</svg></body></html>
